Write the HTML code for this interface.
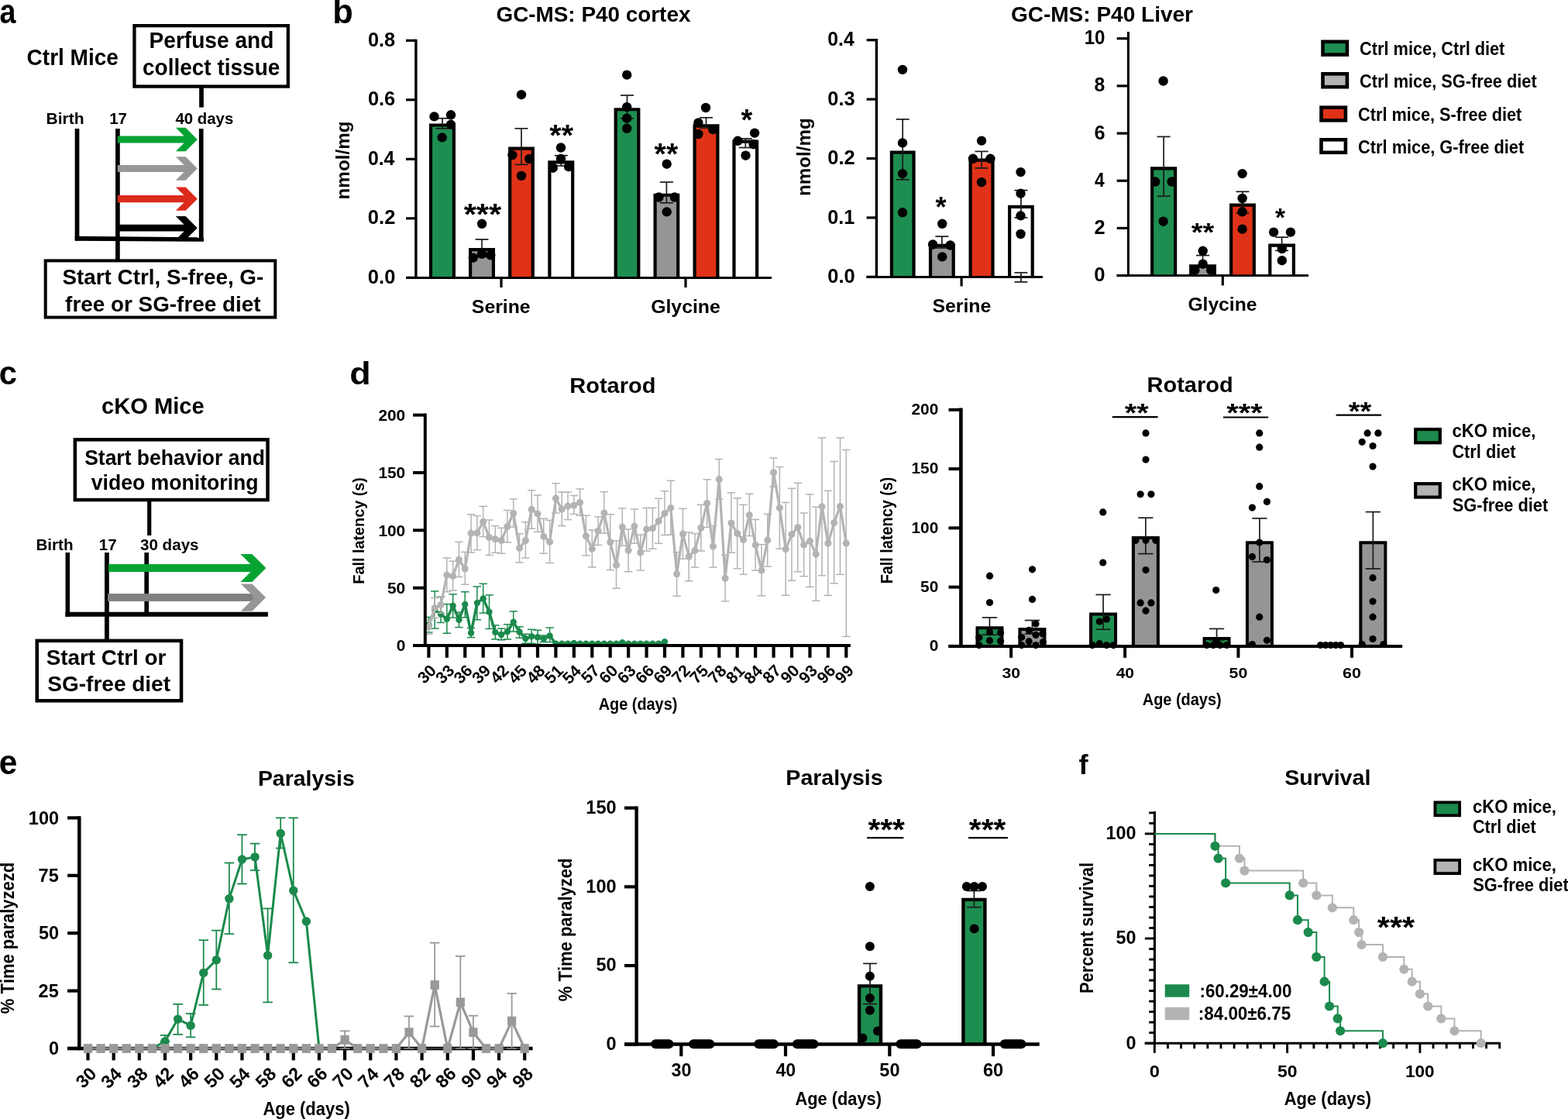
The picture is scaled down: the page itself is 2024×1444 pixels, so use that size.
<!DOCTYPE html>
<html><head><meta charset="utf-8"><title>Figure</title>
<style>
html,body{margin:0;padding:0;background:#fff;}
svg{display:block;}
text{font-family:"Liberation Sans", Arial, Helvetica, sans-serif;font-weight:bold;font-kerning:none;}
</style></head><body>
<svg width="2024" height="1444" viewBox="0 0 2024 1444">
<rect width="2024" height="1444" fill="#fff"/>
<text x="-0.4" y="29.9" font-size="44" textLength="20.97" lengthAdjust="spacingAndGlyphs">a</text>
<text x="34.55" y="84.2" font-size="30.4" textLength="118.41" lengthAdjust="spacingAndGlyphs">Ctrl Mice</text>
<rect x="173.45" y="33.15" width="198.4" height="78.4" fill="none" stroke="#000" stroke-width="4.3"/>
<text x="192.52" y="62.1" font-size="29.4" textLength="160.83" lengthAdjust="spacingAndGlyphs">Perfuse and</text>
<text x="184.01" y="96.5" font-size="29.4" textLength="177.35" lengthAdjust="spacingAndGlyphs">collect tissue</text>
<line x1="260" y1="113" x2="260" y2="138.6" stroke="#000" stroke-width="5.7" stroke-linecap="butt"/>
<text x="59.59" y="159.5" font-size="21">Birth</text>
<text x="141.21" y="159.5" font-size="21" textLength="22.79" lengthAdjust="spacingAndGlyphs">17</text>
<text x="226.39" y="159.5" font-size="21" textLength="74.85" lengthAdjust="spacingAndGlyphs">40 days</text>
<line x1="99.5" y1="166" x2="99.5" y2="310.5" stroke="#000" stroke-width="5.7" stroke-linecap="butt"/>
<line x1="151.9" y1="166" x2="151.9" y2="336" stroke="#000" stroke-width="5.7" stroke-linecap="butt"/>
<line x1="259.7" y1="166" x2="259.7" y2="310.5" stroke="#000" stroke-width="5.7" stroke-linecap="butt"/>
<polygon points="96.8,304.7 263,306.3 263,311.7 96.8,310.7" fill="#000"/>
<polygon points="151.8,175.4 237.55,175.4 226.9,164.75 239.6,164.75 254.8,179.95 239.6,195.15 226.9,195.15 237.55,184.5 151.8,184.5" fill="#06a333"/>
<polygon points="151.8,213 237.6,213 226.9,202.3 239.6,202.3 254.8,217.5 239.6,232.7 226.9,232.7 237.6,222 151.8,222" fill="#979797"/>
<polygon points="151.8,252.1 237.55,252.1 226.9,241.45 239.6,241.45 254.8,256.65 239.6,271.85 226.9,271.85 237.55,261.2 151.8,261.2" fill="#dc2a1b"/>
<polygon points="151.8,289.7 237.65,289.7 226.9,278.95 239.6,278.95 254.8,294.15 239.6,309.35 226.9,309.35 237.65,298.6 151.8,298.6" fill="#000"/>
<rect x="58.7" y="336.4" width="296.6" height="73.1" fill="none" stroke="#000" stroke-width="4"/>
<text x="80.4" y="367" font-size="27.5" textLength="259.92" lengthAdjust="spacingAndGlyphs">Start Ctrl, S-free, G-</text>
<text x="84.12" y="401.5" font-size="27.5" textLength="252.42" lengthAdjust="spacingAndGlyphs">free or SG-free diet</text>
<text x="429.24" y="30.1" font-size="44" textLength="26.55" lengthAdjust="spacingAndGlyphs">b</text>
<text x="640.46" y="28.2" font-size="27.5" textLength="250.95" lengthAdjust="spacingAndGlyphs">GC-MS: P40 cortex</text>
<line x1="524" y1="358.3" x2="536.9" y2="358.3" stroke="#000" stroke-width="3.2" stroke-linecap="butt"/>
<text x="474.89" y="365.9" font-size="25.4" textLength="35.45" lengthAdjust="spacingAndGlyphs">0.0</text>
<line x1="524" y1="281.8" x2="536.9" y2="281.8" stroke="#000" stroke-width="3.2" stroke-linecap="butt"/>
<text x="474.89" y="289.4" font-size="25.4" textLength="35.43" lengthAdjust="spacingAndGlyphs">0.2</text>
<line x1="524" y1="205.3" x2="536.9" y2="205.3" stroke="#000" stroke-width="3.2" stroke-linecap="butt"/>
<text x="474.92" y="212.9" font-size="25.4" textLength="34.52" lengthAdjust="spacingAndGlyphs">0.4</text>
<line x1="524" y1="128.8" x2="536.9" y2="128.8" stroke="#000" stroke-width="3.2" stroke-linecap="butt"/>
<text x="474.9" y="136.4" font-size="25.4">0.6</text>
<line x1="524" y1="52.3" x2="536.9" y2="52.3" stroke="#000" stroke-width="3.2" stroke-linecap="butt"/>
<text x="474.9" y="59.9" font-size="25.4" textLength="35.18" lengthAdjust="spacingAndGlyphs">0.8</text>
<line x1="536.9" y1="50.7" x2="536.9" y2="360" stroke="#000" stroke-width="3.4" stroke-linecap="butt"/>
<line x1="524" y1="358.5" x2="996" y2="358.5" stroke="#000" stroke-width="2.8" stroke-linecap="butt"/>
<line x1="647" y1="358" x2="647" y2="371" stroke="#000" stroke-width="3.2" stroke-linecap="butt"/>
<line x1="885" y1="358" x2="885" y2="371" stroke="#000" stroke-width="3.2" stroke-linecap="butt"/>
<g transform="translate(450.9 0) rotate(-90)">
<text x="-257.5" y="0" font-size="24.5" textLength="101.12" lengthAdjust="spacingAndGlyphs">nmol/mg</text>
</g>
<text x="608.89" y="404.3" font-size="24.7" textLength="75.76" lengthAdjust="spacingAndGlyphs">Serine</text>
<text x="840.18" y="404.3" font-size="24.7" textLength="89.67" lengthAdjust="spacingAndGlyphs">Glycine</text>
<rect x="556" y="161.5" width="29.9" height="196.8" fill="#1e8e50"/>
<path d="M556 358.3V161.5H585.9V358.3" fill="none" stroke="#000" stroke-width="4.2" stroke-linejoin="miter"/>
<line x1="570.95" y1="165.8" x2="570.95" y2="152.7" stroke="#1a1a1a" stroke-width="1.7" stroke-linecap="butt"/>
<line x1="562.45" y1="152.7" x2="579.45" y2="152.7" stroke="#1a1a1a" stroke-width="1.7" stroke-linecap="butt"/>
<line x1="562.45" y1="165.8" x2="579.45" y2="165.8" stroke="#1a1a1a" stroke-width="1.7" stroke-linecap="butt"/>
<circle cx="560.5" cy="150.4" r="6.2" fill="#000"/>
<circle cx="582" cy="148.3" r="6.2" fill="#000"/>
<circle cx="582" cy="160.8" r="6.2" fill="#000"/>
<circle cx="570.7" cy="177.4" r="6.2" fill="#000"/>
<rect x="607.1" y="322.15" width="29.8" height="36.15" fill="#959595"/>
<path d="M607.1 358.3V322.15H636.9V358.3" fill="none" stroke="#000" stroke-width="4.2" stroke-linejoin="miter"/>
<line x1="622" y1="331" x2="622" y2="308.9" stroke="#1a1a1a" stroke-width="1.7" stroke-linecap="butt"/>
<line x1="613.5" y1="308.9" x2="630.5" y2="308.9" stroke="#1a1a1a" stroke-width="1.7" stroke-linecap="butt"/>
<line x1="613.5" y1="331" x2="630.5" y2="331" stroke="#1a1a1a" stroke-width="1.7" stroke-linecap="butt"/>
<circle cx="622.1" cy="288.8" r="6.2" fill="#000"/>
<circle cx="610.8" cy="332.6" r="6.2" fill="#000"/>
<circle cx="621.9" cy="327.8" r="6.2" fill="#000"/>
<circle cx="633.3" cy="329.4" r="6.2" fill="#000"/>
<rect x="658.2" y="191.72" width="29.6" height="166.58" fill="#e03218"/>
<path d="M658.2 358.3V191.72H687.8V358.3" fill="none" stroke="#000" stroke-width="4.2" stroke-linejoin="miter"/>
<line x1="673" y1="212.3" x2="673" y2="165.8" stroke="#1a1a1a" stroke-width="1.7" stroke-linecap="butt"/>
<line x1="664.5" y1="165.8" x2="681.5" y2="165.8" stroke="#1a1a1a" stroke-width="1.7" stroke-linecap="butt"/>
<line x1="664.5" y1="212.3" x2="681.5" y2="212.3" stroke="#1a1a1a" stroke-width="1.7" stroke-linecap="butt"/>
<circle cx="673" cy="122.2" r="6.2" fill="#000"/>
<circle cx="661.4" cy="200.1" r="6.2" fill="#000"/>
<circle cx="683.2" cy="205" r="6.2" fill="#000"/>
<circle cx="673" cy="226.9" r="6.2" fill="#000"/>
<rect x="709.4" y="209.31" width="29.8" height="148.99" fill="#fff"/>
<path d="M709.4 358.3V209.31H739.2V358.3" fill="none" stroke="#000" stroke-width="4.2" stroke-linejoin="miter"/>
<line x1="724.3" y1="214" x2="724.3" y2="200.7" stroke="#1a1a1a" stroke-width="1.7" stroke-linecap="butt"/>
<line x1="715.8" y1="200.7" x2="732.8" y2="200.7" stroke="#1a1a1a" stroke-width="1.7" stroke-linecap="butt"/>
<line x1="715.8" y1="214" x2="732.8" y2="214" stroke="#1a1a1a" stroke-width="1.7" stroke-linecap="butt"/>
<circle cx="724" cy="190.5" r="6.2" fill="#000"/>
<circle cx="713.8" cy="216.7" r="6.2" fill="#000"/>
<circle cx="724" cy="205" r="6.2" fill="#000"/>
<circle cx="734.1" cy="215.2" r="6.2" fill="#000"/>
<rect x="794.7" y="141.23" width="29.6" height="217.07" fill="#1e8e50"/>
<path d="M794.7 358.3V141.23H824.3V358.3" fill="none" stroke="#000" stroke-width="4.2" stroke-linejoin="miter"/>
<line x1="809.5" y1="152.7" x2="809.5" y2="123" stroke="#1a1a1a" stroke-width="1.7" stroke-linecap="butt"/>
<line x1="801" y1="123" x2="818" y2="123" stroke="#1a1a1a" stroke-width="1.7" stroke-linecap="butt"/>
<line x1="801" y1="152.7" x2="818" y2="152.7" stroke="#1a1a1a" stroke-width="1.7" stroke-linecap="butt"/>
<circle cx="809.2" cy="96.6" r="6.2" fill="#000"/>
<circle cx="809.2" cy="138.2" r="6.2" fill="#000"/>
<circle cx="809.2" cy="152.7" r="6.2" fill="#000"/>
<circle cx="809.2" cy="165.8" r="6.2" fill="#000"/>
<rect x="845.6" y="251.77" width="29.6" height="106.53" fill="#959595"/>
<path d="M845.6 358.3V251.77H875.2V358.3" fill="none" stroke="#000" stroke-width="4.2" stroke-linejoin="miter"/>
<line x1="860.4" y1="261.8" x2="860.4" y2="235" stroke="#1a1a1a" stroke-width="1.7" stroke-linecap="butt"/>
<line x1="851.9" y1="235" x2="868.9" y2="235" stroke="#1a1a1a" stroke-width="1.7" stroke-linecap="butt"/>
<line x1="851.9" y1="261.8" x2="868.9" y2="261.8" stroke="#1a1a1a" stroke-width="1.7" stroke-linecap="butt"/>
<circle cx="860.7" cy="211.7" r="6.2" fill="#000"/>
<circle cx="850.5" cy="254.5" r="6.2" fill="#000"/>
<circle cx="870.8" cy="254.5" r="6.2" fill="#000"/>
<circle cx="860.7" cy="273.4" r="6.2" fill="#000"/>
<rect x="896.6" y="162.26" width="29.8" height="196.04" fill="#e03218"/>
<path d="M896.6 358.3V162.26H926.4V358.3" fill="none" stroke="#000" stroke-width="4.2" stroke-linejoin="miter"/>
<line x1="911.5" y1="165.2" x2="911.5" y2="151.8" stroke="#1a1a1a" stroke-width="1.7" stroke-linecap="butt"/>
<line x1="903" y1="151.8" x2="920" y2="151.8" stroke="#1a1a1a" stroke-width="1.7" stroke-linecap="butt"/>
<line x1="903" y1="165.2" x2="920" y2="165.2" stroke="#1a1a1a" stroke-width="1.7" stroke-linecap="butt"/>
<circle cx="911" cy="139" r="6.2" fill="#000"/>
<circle cx="901.4" cy="158.5" r="6.2" fill="#000"/>
<circle cx="920.3" cy="167.2" r="6.2" fill="#000"/>
<circle cx="901.4" cy="173" r="6.2" fill="#000"/>
<rect x="947.5" y="182.54" width="29.6" height="175.76" fill="#fff"/>
<path d="M947.5 358.3V182.54H977.1V358.3" fill="none" stroke="#000" stroke-width="4.2" stroke-linejoin="miter"/>
<line x1="962.3" y1="190.5" x2="962.3" y2="178.9" stroke="#1a1a1a" stroke-width="1.7" stroke-linecap="butt"/>
<line x1="953.8" y1="178.9" x2="970.8" y2="178.9" stroke="#1a1a1a" stroke-width="1.7" stroke-linecap="butt"/>
<line x1="953.8" y1="190.5" x2="970.8" y2="190.5" stroke="#1a1a1a" stroke-width="1.7" stroke-linecap="butt"/>
<circle cx="974.1" cy="171.6" r="6.2" fill="#000"/>
<circle cx="952.3" cy="181.8" r="6.2" fill="#000"/>
<circle cx="972.6" cy="186.2" r="6.2" fill="#000"/>
<circle cx="962.5" cy="200.7" r="6.2" fill="#000"/>
<line x1="524" y1="358.5" x2="996" y2="358.5" stroke="#000" stroke-width="2.8" stroke-linecap="butt"/>
<text x="598.68" y="290" font-size="39.24" textLength="48.56" lengthAdjust="spacingAndGlyphs">***</text>
<text x="709.28" y="188.4" font-size="39.24" textLength="30.75" lengthAdjust="spacingAndGlyphs">**</text>
<text x="844.58" y="211.51" font-size="38.97" textLength="30.65" lengthAdjust="spacingAndGlyphs">**</text>
<text x="956.49" y="168" font-size="39.24" textLength="14.75" lengthAdjust="spacingAndGlyphs">*</text>
<text x="1304.95" y="27.7" font-size="27.5" textLength="235.07" lengthAdjust="spacingAndGlyphs">GC-MS: P40 Liver</text>
<line x1="1118.6" y1="357.3" x2="1131.4" y2="357.3" stroke="#000" stroke-width="3.2" stroke-linecap="butt"/>
<text x="1068.29" y="364.9" font-size="25.4" textLength="35.45" lengthAdjust="spacingAndGlyphs">0.0</text>
<line x1="1118.6" y1="280.9" x2="1131.4" y2="280.9" stroke="#000" stroke-width="3.2" stroke-linecap="butt"/>
<text x="1068.3" y="288.5" font-size="25.4" textLength="35.1" lengthAdjust="spacingAndGlyphs">0.1</text>
<line x1="1118.6" y1="204.5" x2="1131.4" y2="204.5" stroke="#000" stroke-width="3.2" stroke-linecap="butt"/>
<text x="1068.29" y="212.1" font-size="25.4" textLength="35.43" lengthAdjust="spacingAndGlyphs">0.2</text>
<line x1="1118.6" y1="128.1" x2="1131.4" y2="128.1" stroke="#000" stroke-width="3.2" stroke-linecap="butt"/>
<text x="1068.3" y="135.7" font-size="25.4">0.3</text>
<line x1="1118.6" y1="51.7" x2="1131.4" y2="51.7" stroke="#000" stroke-width="3.2" stroke-linecap="butt"/>
<text x="1068.32" y="59.3" font-size="25.4" textLength="34.52" lengthAdjust="spacingAndGlyphs">0.4</text>
<line x1="1131.4" y1="50.1" x2="1131.4" y2="359" stroke="#000" stroke-width="3.4" stroke-linecap="butt"/>
<line x1="1118.6" y1="357.3" x2="1345.9" y2="357.3" stroke="#000" stroke-width="2.8" stroke-linecap="butt"/>
<line x1="1241.1" y1="357" x2="1241.1" y2="369.4" stroke="#000" stroke-width="3.2" stroke-linecap="butt"/>
<g transform="translate(1045.8 0) rotate(-90)">
<text x="-252.89" y="0" font-size="24.6" textLength="100.61" lengthAdjust="spacingAndGlyphs">nmol/mg</text>
</g>
<text x="1203.38" y="403" font-size="24.7" textLength="75.97" lengthAdjust="spacingAndGlyphs">Serine</text>
<rect x="1150.9" y="196.67" width="28.6" height="160.63" fill="#1e8e50"/>
<path d="M1150.9 357.3V196.67H1179.5V357.3" fill="none" stroke="#000" stroke-width="4.2" stroke-linejoin="miter"/>
<line x1="1165.2" y1="231.8" x2="1165.2" y2="153.9" stroke="#1a1a1a" stroke-width="1.7" stroke-linecap="butt"/>
<line x1="1156.7" y1="153.9" x2="1173.7" y2="153.9" stroke="#1a1a1a" stroke-width="1.7" stroke-linecap="butt"/>
<line x1="1156.7" y1="231.8" x2="1173.7" y2="231.8" stroke="#1a1a1a" stroke-width="1.7" stroke-linecap="butt"/>
<circle cx="1165" cy="89.9" r="6.2" fill="#000"/>
<circle cx="1165" cy="184.4" r="6.2" fill="#000"/>
<circle cx="1165" cy="224.1" r="6.2" fill="#000"/>
<circle cx="1165" cy="274.3" r="6.2" fill="#000"/>
<rect x="1201" y="316.92" width="29.7" height="40.38" fill="#959595"/>
<path d="M1201 357.3V316.92H1230.7V357.3" fill="none" stroke="#000" stroke-width="4.2" stroke-linejoin="miter"/>
<line x1="1215.85" y1="320" x2="1215.85" y2="305.1" stroke="#1a1a1a" stroke-width="1.7" stroke-linecap="butt"/>
<line x1="1207.35" y1="305.1" x2="1224.35" y2="305.1" stroke="#1a1a1a" stroke-width="1.7" stroke-linecap="butt"/>
<line x1="1207.35" y1="320" x2="1224.35" y2="320" stroke="#1a1a1a" stroke-width="1.7" stroke-linecap="butt"/>
<circle cx="1216.2" cy="288.8" r="6.2" fill="#000"/>
<circle cx="1204.1" cy="315.5" r="6.2" fill="#000"/>
<circle cx="1226.6" cy="316.5" r="6.2" fill="#000"/>
<circle cx="1216.2" cy="331.4" r="6.2" fill="#000"/>
<rect x="1252.6" y="206.6" width="28.9" height="150.7" fill="#e03218"/>
<path d="M1252.6 357.3V206.6H1281.5V357.3" fill="none" stroke="#000" stroke-width="4.2" stroke-linejoin="miter"/>
<line x1="1267.05" y1="216.9" x2="1267.05" y2="195.4" stroke="#1a1a1a" stroke-width="1.7" stroke-linecap="butt"/>
<line x1="1258.55" y1="195.4" x2="1275.55" y2="195.4" stroke="#1a1a1a" stroke-width="1.7" stroke-linecap="butt"/>
<line x1="1258.55" y1="216.9" x2="1275.55" y2="216.9" stroke="#1a1a1a" stroke-width="1.7" stroke-linecap="butt"/>
<circle cx="1267" cy="181.6" r="6.2" fill="#000"/>
<circle cx="1256" cy="204.8" r="6.2" fill="#000"/>
<circle cx="1278.4" cy="204.8" r="6.2" fill="#000"/>
<circle cx="1267" cy="235.2" r="6.2" fill="#000"/>
<rect x="1303.1" y="266.96" width="29.6" height="90.34" fill="#fff"/>
<path d="M1303.1 357.3V266.96H1332.7V357.3" fill="none" stroke="#000" stroke-width="4.2" stroke-linejoin="miter"/>
<line x1="1317.9" y1="280.9" x2="1317.9" y2="245.6" stroke="#1a1a1a" stroke-width="1.7" stroke-linecap="butt"/>
<line x1="1309.4" y1="245.6" x2="1326.4" y2="245.6" stroke="#1a1a1a" stroke-width="1.7" stroke-linecap="butt"/>
<line x1="1309.4" y1="280.9" x2="1326.4" y2="280.9" stroke="#1a1a1a" stroke-width="1.7" stroke-linecap="butt"/>
<circle cx="1317.5" cy="222.1" r="6.2" fill="#000"/>
<circle cx="1317.5" cy="249.7" r="6.2" fill="#000"/>
<circle cx="1317.5" cy="278.4" r="6.2" fill="#000"/>
<circle cx="1317.5" cy="302" r="6.2" fill="#000"/>
<line x1="1118.6" y1="357.3" x2="1345.9" y2="357.3" stroke="#000" stroke-width="2.8" stroke-linecap="butt"/>
<line x1="1317.9" y1="363.9" x2="1317.9" y2="351.8" stroke="#1a1a1a" stroke-width="1.7" stroke-linecap="butt"/>
<line x1="1309.4" y1="351.8" x2="1326.4" y2="351.8" stroke="#1a1a1a" stroke-width="1.7" stroke-linecap="butt"/>
<line x1="1309.4" y1="363.9" x2="1326.4" y2="363.9" stroke="#1a1a1a" stroke-width="1.7" stroke-linecap="butt"/>
<text x="1207.39" y="279.72" font-size="37.09" textLength="14.04" lengthAdjust="spacingAndGlyphs">*</text>
<line x1="1441.7" y1="355.6" x2="1456.4" y2="355.6" stroke="#000" stroke-width="3.2" stroke-linecap="butt"/>
<text x="1412.29" y="363.2" font-size="25.4" textLength="14.27" lengthAdjust="spacingAndGlyphs">0</text>
<line x1="1441.7" y1="294.42" x2="1456.4" y2="294.42" stroke="#000" stroke-width="3.2" stroke-linecap="butt"/>
<text x="1412.42" y="302.02" font-size="25.4" textLength="14.09" lengthAdjust="spacingAndGlyphs">2</text>
<line x1="1441.7" y1="233.24" x2="1456.4" y2="233.24" stroke="#000" stroke-width="3.2" stroke-linecap="butt"/>
<text x="1412.96" y="240.84" font-size="25.4" textLength="12.67" lengthAdjust="spacingAndGlyphs">4</text>
<line x1="1441.7" y1="172.06" x2="1456.4" y2="172.06" stroke="#000" stroke-width="3.2" stroke-linecap="butt"/>
<text x="1412.38" y="179.66" font-size="25.4" textLength="14.04" lengthAdjust="spacingAndGlyphs">6</text>
<line x1="1441.7" y1="110.88" x2="1456.4" y2="110.88" stroke="#000" stroke-width="3.2" stroke-linecap="butt"/>
<text x="1412.52" y="118.48" font-size="25.4" textLength="13.74" lengthAdjust="spacingAndGlyphs">8</text>
<line x1="1441.7" y1="49.7" x2="1456.4" y2="49.7" stroke="#000" stroke-width="3.2" stroke-linecap="butt"/>
<text x="1399.68" y="57.3" font-size="25.4" textLength="26.81" lengthAdjust="spacingAndGlyphs">10</text>
<line x1="1456.4" y1="40.9" x2="1456.4" y2="357" stroke="#000" stroke-width="3.1" stroke-linecap="butt"/>
<line x1="1441.7" y1="355.6" x2="1689" y2="355.6" stroke="#000" stroke-width="2.8" stroke-linecap="butt"/>
<line x1="1578.3" y1="355.3" x2="1578.3" y2="368.4" stroke="#000" stroke-width="3.2" stroke-linecap="butt"/>
<text x="1533.39" y="401" font-size="24.7" textLength="89.05" lengthAdjust="spacingAndGlyphs">Glycine</text>
<rect x="1487.1" y="217.29" width="30" height="138.31" fill="#1e8e50"/>
<path d="M1487.1 355.6V217.29H1517.1V355.6" fill="none" stroke="#000" stroke-width="4.2" stroke-linejoin="miter"/>
<line x1="1502.1" y1="253.2" x2="1502.1" y2="176.4" stroke="#1a1a1a" stroke-width="1.7" stroke-linecap="butt"/>
<line x1="1493.6" y1="176.4" x2="1510.6" y2="176.4" stroke="#1a1a1a" stroke-width="1.7" stroke-linecap="butt"/>
<line x1="1493.6" y1="253.2" x2="1510.6" y2="253.2" stroke="#1a1a1a" stroke-width="1.7" stroke-linecap="butt"/>
<circle cx="1501.6" cy="104.5" r="6.2" fill="#000"/>
<circle cx="1491.2" cy="234.5" r="6.2" fill="#000"/>
<circle cx="1512.6" cy="234.5" r="6.2" fill="#000"/>
<circle cx="1501.6" cy="285.7" r="6.2" fill="#000"/>
<rect x="1537.2" y="343.32" width="30.7" height="12.28" fill="#959595"/>
<path d="M1537.2 355.6V343.32H1567.9V355.6" fill="none" stroke="#000" stroke-width="4.2" stroke-linejoin="miter"/>
<line x1="1552.55" y1="345" x2="1552.55" y2="329.6" stroke="#1a1a1a" stroke-width="1.7" stroke-linecap="butt"/>
<line x1="1544.05" y1="329.6" x2="1561.05" y2="329.6" stroke="#1a1a1a" stroke-width="1.7" stroke-linecap="butt"/>
<line x1="1544.05" y1="345" x2="1561.05" y2="345" stroke="#1a1a1a" stroke-width="1.7" stroke-linecap="butt"/>
<circle cx="1552.7" cy="323.8" r="6.2" fill="#000"/>
<circle cx="1552.7" cy="340.7" r="6.2" fill="#000"/>
<circle cx="1542.4" cy="348.7" r="6.2" fill="#000"/>
<circle cx="1563.1" cy="348.7" r="6.2" fill="#000"/>
<rect x="1589.1" y="264.71" width="29.7" height="90.89" fill="#e03218"/>
<path d="M1589.1 355.6V264.71H1618.8V355.6" fill="none" stroke="#000" stroke-width="4.2" stroke-linejoin="miter"/>
<line x1="1603.95" y1="275" x2="1603.95" y2="247.3" stroke="#1a1a1a" stroke-width="1.7" stroke-linecap="butt"/>
<line x1="1595.45" y1="247.3" x2="1612.45" y2="247.3" stroke="#1a1a1a" stroke-width="1.7" stroke-linecap="butt"/>
<line x1="1595.45" y1="275" x2="1612.45" y2="275" stroke="#1a1a1a" stroke-width="1.7" stroke-linecap="butt"/>
<circle cx="1603.6" cy="224.1" r="6.2" fill="#000"/>
<circle cx="1603.6" cy="256" r="6.2" fill="#000"/>
<circle cx="1603.6" cy="273.3" r="6.2" fill="#000"/>
<circle cx="1603.6" cy="295.7" r="6.2" fill="#000"/>
<rect x="1639.3" y="316.71" width="30.6" height="38.89" fill="#fff"/>
<path d="M1639.3 355.6V316.71H1669.9V355.6" fill="none" stroke="#000" stroke-width="4.2" stroke-linejoin="miter"/>
<line x1="1654.6" y1="323.4" x2="1654.6" y2="306.1" stroke="#1a1a1a" stroke-width="1.7" stroke-linecap="butt"/>
<line x1="1646.1" y1="306.1" x2="1663.1" y2="306.1" stroke="#1a1a1a" stroke-width="1.7" stroke-linecap="butt"/>
<line x1="1646.1" y1="323.4" x2="1663.1" y2="323.4" stroke="#1a1a1a" stroke-width="1.7" stroke-linecap="butt"/>
<circle cx="1644.1" cy="299.6" r="6.2" fill="#000"/>
<circle cx="1665.9" cy="299.6" r="6.2" fill="#000"/>
<circle cx="1654.8" cy="321" r="6.2" fill="#000"/>
<circle cx="1654.8" cy="336.2" r="6.2" fill="#000"/>
<line x1="1441.7" y1="355.6" x2="1689" y2="355.6" stroke="#000" stroke-width="2.8" stroke-linecap="butt"/>
<text x="1537.79" y="311.36" font-size="32.79" textLength="29.55" lengthAdjust="spacingAndGlyphs">**</text>
<text x="1646" y="292.36" font-size="32.79" textLength="13.03" lengthAdjust="spacingAndGlyphs">*</text>
<rect x="1707.5" y="53.8" width="31.4" height="16.8" fill="#1e8e50" stroke="#000" stroke-width="4.6"/>
<rect x="1707.5" y="95.3" width="31.4" height="16.9" fill="#b4b3b4" stroke="#000" stroke-width="4.6"/>
<rect x="1705.5" y="138.7" width="31.4" height="16.6" fill="#e03218" stroke="#000" stroke-width="4.6"/>
<rect x="1705.5" y="180.3" width="31.4" height="16.5" fill="#fff" stroke="#000" stroke-width="4.6"/>
<text x="1755.11" y="71.3" font-size="23.3" textLength="187.26" lengthAdjust="spacingAndGlyphs">Ctrl mice, Ctrl diet</text>
<text x="1755.11" y="112.5" font-size="23.3" textLength="228.56" lengthAdjust="spacingAndGlyphs">Ctrl mice, SG-free diet</text>
<text x="1753.11" y="156.2" font-size="23.3" textLength="211.16" lengthAdjust="spacingAndGlyphs">Ctrl mice, S-free diet</text>
<text x="1753.11" y="198" font-size="23.3" textLength="214.06" lengthAdjust="spacingAndGlyphs">Ctrl mice, G-free diet</text>
<text x="-1.33" y="496.2" font-size="42" textLength="23.26" lengthAdjust="spacingAndGlyphs">c</text>
<text x="131.06" y="533.9" font-size="30.4" textLength="132.63" lengthAdjust="spacingAndGlyphs">cKO Mice</text>
<rect x="96.85" y="567.35" width="248.7" height="77.7" fill="none" stroke="#000" stroke-width="4.5"/>
<text x="109.14" y="600.1" font-size="27.5" textLength="232.71" lengthAdjust="spacingAndGlyphs">Start behavior and</text>
<text x="117.7" y="632" font-size="27.5" textLength="215.88" lengthAdjust="spacingAndGlyphs">video monitoring</text>
<line x1="192.7" y1="646" x2="192.7" y2="691" stroke="#000" stroke-width="5.2" stroke-linecap="butt"/>
<text x="46.42" y="710" font-size="20.5" textLength="48.16" lengthAdjust="spacingAndGlyphs">Birth</text>
<text x="127.7" y="710" font-size="20.5" textLength="22.9" lengthAdjust="spacingAndGlyphs">17</text>
<text x="181.03" y="710" font-size="20.5" textLength="75.52" lengthAdjust="spacingAndGlyphs">30 days</text>
<line x1="87.3" y1="713" x2="87.3" y2="795.8" stroke="#000" stroke-width="5.5" stroke-linecap="butt"/>
<line x1="137.9" y1="713" x2="137.9" y2="826" stroke="#000" stroke-width="5.8" stroke-linecap="butt"/>
<line x1="189.2" y1="713" x2="189.2" y2="792" stroke="#000" stroke-width="5.7" stroke-linecap="butt"/>
<line x1="84.4" y1="792.8" x2="345.9" y2="792.8" stroke="#000" stroke-width="5.9" stroke-linecap="butt"/>
<polygon points="140.1,727.9 323.4,727.9 310.5,715 325.4,715 343.4,733 325.4,751 310.5,751 323.4,738.1 140.1,738.1" fill="#06a333"/>
<polygon points="139.2,766.35 323.75,766.35 310.9,753.5 325.5,753.5 343.1,771.1 325.5,788.7 310.9,788.7 323.75,775.85 139.2,775.85" fill="#979797"/>
<polygon points="139.2,766.3 324.5,766.3 327.4,771 324.5,775.8 139.2,775.8" fill="#808080"/>
<rect x="47.75" y="826.85" width="186.3" height="77.4" fill="none" stroke="#000" stroke-width="4.5"/>
<text x="59.7" y="857.5" font-size="27.5" textLength="154.72" lengthAdjust="spacingAndGlyphs">Start Ctrl or</text>
<text x="61.29" y="891.5" font-size="27.5" textLength="158.75" lengthAdjust="spacingAndGlyphs">SG-free diet</text>
<text x="451.36" y="496.1" font-size="40" textLength="27.4" lengthAdjust="spacingAndGlyphs">d</text>
<text x="735.36" y="507.3" font-size="27.5" textLength="111.05" lengthAdjust="spacingAndGlyphs">Rotarod</text>
<line x1="553.4" y1="816" x2="553.4" y2="796.4" stroke="#1b8a4c" stroke-width="1.5" stroke-linecap="butt"/>
<line x1="548.2" y1="796.4" x2="558.6" y2="796.4" stroke="#1b8a4c" stroke-width="1.5" stroke-linecap="butt"/>
<line x1="548.2" y1="816" x2="558.6" y2="816" stroke="#1b8a4c" stroke-width="1.5" stroke-linecap="butt"/>
<line x1="561.21" y1="811" x2="561.21" y2="762.9" stroke="#1b8a4c" stroke-width="1.5" stroke-linecap="butt"/>
<line x1="556.01" y1="762.9" x2="566.41" y2="762.9" stroke="#1b8a4c" stroke-width="1.5" stroke-linecap="butt"/>
<line x1="556.01" y1="811" x2="566.41" y2="811" stroke="#1b8a4c" stroke-width="1.5" stroke-linecap="butt"/>
<line x1="569.02" y1="803.4" x2="569.02" y2="770" stroke="#1b8a4c" stroke-width="1.5" stroke-linecap="butt"/>
<line x1="563.82" y1="770" x2="574.22" y2="770" stroke="#1b8a4c" stroke-width="1.5" stroke-linecap="butt"/>
<line x1="563.82" y1="803.4" x2="574.22" y2="803.4" stroke="#1b8a4c" stroke-width="1.5" stroke-linecap="butt"/>
<line x1="576.83" y1="817.2" x2="576.83" y2="779.6" stroke="#1b8a4c" stroke-width="1.5" stroke-linecap="butt"/>
<line x1="571.63" y1="779.6" x2="582.03" y2="779.6" stroke="#1b8a4c" stroke-width="1.5" stroke-linecap="butt"/>
<line x1="571.63" y1="817.2" x2="582.03" y2="817.2" stroke="#1b8a4c" stroke-width="1.5" stroke-linecap="butt"/>
<line x1="584.64" y1="797" x2="584.64" y2="766.8" stroke="#1b8a4c" stroke-width="1.5" stroke-linecap="butt"/>
<line x1="579.44" y1="766.8" x2="589.84" y2="766.8" stroke="#1b8a4c" stroke-width="1.5" stroke-linecap="butt"/>
<line x1="579.44" y1="797" x2="589.84" y2="797" stroke="#1b8a4c" stroke-width="1.5" stroke-linecap="butt"/>
<line x1="592.45" y1="809.6" x2="592.45" y2="790.2" stroke="#1b8a4c" stroke-width="1.5" stroke-linecap="butt"/>
<line x1="587.25" y1="790.2" x2="597.65" y2="790.2" stroke="#1b8a4c" stroke-width="1.5" stroke-linecap="butt"/>
<line x1="587.25" y1="809.6" x2="597.65" y2="809.6" stroke="#1b8a4c" stroke-width="1.5" stroke-linecap="butt"/>
<line x1="600.26" y1="796.7" x2="600.26" y2="763.7" stroke="#1b8a4c" stroke-width="1.5" stroke-linecap="butt"/>
<line x1="595.06" y1="763.7" x2="605.46" y2="763.7" stroke="#1b8a4c" stroke-width="1.5" stroke-linecap="butt"/>
<line x1="595.06" y1="796.7" x2="605.46" y2="796.7" stroke="#1b8a4c" stroke-width="1.5" stroke-linecap="butt"/>
<line x1="608.07" y1="822.6" x2="608.07" y2="810.5" stroke="#1b8a4c" stroke-width="1.5" stroke-linecap="butt"/>
<line x1="602.87" y1="810.5" x2="613.27" y2="810.5" stroke="#1b8a4c" stroke-width="1.5" stroke-linecap="butt"/>
<line x1="602.87" y1="822.6" x2="613.27" y2="822.6" stroke="#1b8a4c" stroke-width="1.5" stroke-linecap="butt"/>
<line x1="615.88" y1="799.7" x2="615.88" y2="756.9" stroke="#1b8a4c" stroke-width="1.5" stroke-linecap="butt"/>
<line x1="610.68" y1="756.9" x2="621.08" y2="756.9" stroke="#1b8a4c" stroke-width="1.5" stroke-linecap="butt"/>
<line x1="610.68" y1="799.7" x2="621.08" y2="799.7" stroke="#1b8a4c" stroke-width="1.5" stroke-linecap="butt"/>
<line x1="623.69" y1="791.1" x2="623.69" y2="753.3" stroke="#1b8a4c" stroke-width="1.5" stroke-linecap="butt"/>
<line x1="618.49" y1="753.3" x2="628.89" y2="753.3" stroke="#1b8a4c" stroke-width="1.5" stroke-linecap="butt"/>
<line x1="618.49" y1="791.1" x2="628.89" y2="791.1" stroke="#1b8a4c" stroke-width="1.5" stroke-linecap="butt"/>
<line x1="631.5" y1="811.4" x2="631.5" y2="767.9" stroke="#1b8a4c" stroke-width="1.5" stroke-linecap="butt"/>
<line x1="626.3" y1="767.9" x2="636.7" y2="767.9" stroke="#1b8a4c" stroke-width="1.5" stroke-linecap="butt"/>
<line x1="626.3" y1="811.4" x2="636.7" y2="811.4" stroke="#1b8a4c" stroke-width="1.5" stroke-linecap="butt"/>
<line x1="639.31" y1="824.9" x2="639.31" y2="806.9" stroke="#1b8a4c" stroke-width="1.5" stroke-linecap="butt"/>
<line x1="634.11" y1="806.9" x2="644.51" y2="806.9" stroke="#1b8a4c" stroke-width="1.5" stroke-linecap="butt"/>
<line x1="634.11" y1="824.9" x2="644.51" y2="824.9" stroke="#1b8a4c" stroke-width="1.5" stroke-linecap="butt"/>
<line x1="647.12" y1="825.8" x2="647.12" y2="811" stroke="#1b8a4c" stroke-width="1.5" stroke-linecap="butt"/>
<line x1="641.92" y1="811" x2="652.32" y2="811" stroke="#1b8a4c" stroke-width="1.5" stroke-linecap="butt"/>
<line x1="641.92" y1="825.8" x2="652.32" y2="825.8" stroke="#1b8a4c" stroke-width="1.5" stroke-linecap="butt"/>
<line x1="654.93" y1="824.9" x2="654.93" y2="805.7" stroke="#1b8a4c" stroke-width="1.5" stroke-linecap="butt"/>
<line x1="649.73" y1="805.7" x2="660.13" y2="805.7" stroke="#1b8a4c" stroke-width="1.5" stroke-linecap="butt"/>
<line x1="649.73" y1="824.9" x2="660.13" y2="824.9" stroke="#1b8a4c" stroke-width="1.5" stroke-linecap="butt"/>
<line x1="662.74" y1="815" x2="662.74" y2="788.9" stroke="#1b8a4c" stroke-width="1.5" stroke-linecap="butt"/>
<line x1="657.54" y1="788.9" x2="667.94" y2="788.9" stroke="#1b8a4c" stroke-width="1.5" stroke-linecap="butt"/>
<line x1="657.54" y1="815" x2="667.94" y2="815" stroke="#1b8a4c" stroke-width="1.5" stroke-linecap="butt"/>
<line x1="670.55" y1="823.1" x2="670.55" y2="808.7" stroke="#1b8a4c" stroke-width="1.5" stroke-linecap="butt"/>
<line x1="665.35" y1="808.7" x2="675.75" y2="808.7" stroke="#1b8a4c" stroke-width="1.5" stroke-linecap="butt"/>
<line x1="665.35" y1="823.1" x2="675.75" y2="823.1" stroke="#1b8a4c" stroke-width="1.5" stroke-linecap="butt"/>
<line x1="678.36" y1="830.3" x2="678.36" y2="818.3" stroke="#1b8a4c" stroke-width="1.5" stroke-linecap="butt"/>
<line x1="673.16" y1="818.3" x2="683.56" y2="818.3" stroke="#1b8a4c" stroke-width="1.5" stroke-linecap="butt"/>
<line x1="673.16" y1="830.3" x2="683.56" y2="830.3" stroke="#1b8a4c" stroke-width="1.5" stroke-linecap="butt"/>
<line x1="686.17" y1="830.3" x2="686.17" y2="812.3" stroke="#1b8a4c" stroke-width="1.5" stroke-linecap="butt"/>
<line x1="680.97" y1="812.3" x2="691.37" y2="812.3" stroke="#1b8a4c" stroke-width="1.5" stroke-linecap="butt"/>
<line x1="680.97" y1="830.3" x2="691.37" y2="830.3" stroke="#1b8a4c" stroke-width="1.5" stroke-linecap="butt"/>
<line x1="693.98" y1="831.2" x2="693.98" y2="813.2" stroke="#1b8a4c" stroke-width="1.5" stroke-linecap="butt"/>
<line x1="688.78" y1="813.2" x2="699.18" y2="813.2" stroke="#1b8a4c" stroke-width="1.5" stroke-linecap="butt"/>
<line x1="688.78" y1="831.2" x2="699.18" y2="831.2" stroke="#1b8a4c" stroke-width="1.5" stroke-linecap="butt"/>
<line x1="701.79" y1="828.5" x2="701.79" y2="820" stroke="#1b8a4c" stroke-width="1.5" stroke-linecap="butt"/>
<line x1="696.59" y1="820" x2="706.99" y2="820" stroke="#1b8a4c" stroke-width="1.5" stroke-linecap="butt"/>
<line x1="696.59" y1="828.5" x2="706.99" y2="828.5" stroke="#1b8a4c" stroke-width="1.5" stroke-linecap="butt"/>
<line x1="709.6" y1="828.5" x2="709.6" y2="810" stroke="#1b8a4c" stroke-width="1.5" stroke-linecap="butt"/>
<line x1="704.4" y1="810" x2="714.8" y2="810" stroke="#1b8a4c" stroke-width="1.5" stroke-linecap="butt"/>
<line x1="704.4" y1="828.5" x2="714.8" y2="828.5" stroke="#1b8a4c" stroke-width="1.5" stroke-linecap="butt"/>
<polyline points="553.4,806.5 561.21,787.1 569.02,792.6 576.83,798.8 584.64,781.7 592.45,799.7 600.26,779.9 608.07,816.8 615.88,778.1 623.69,772.4 631.5,789.8 639.31,815.9 647.12,819 654.93,815 662.74,802.8 670.55,815.4 678.36,824 686.17,821.3 693.98,822.2 701.79,824.4 709.6,820.4 717.41,830.6 725.22,830.6 733.03,830.6 740.84,830 748.65,830.6 756.46,830.6 764.27,830.6 772.08,830.6 779.89,830.6 787.7,830.6 795.51,830.6 803.32,829.2 811.13,830.6 818.94,830.6 826.75,830.6 834.56,830.6 842.37,830.6 850.18,830.6 857.99,828.1" fill="none" stroke="#1b8a4c" stroke-width="3.5" stroke-linejoin="round"/>
<circle cx="553.4" cy="806.5" r="4.2" fill="#1b8a4c"/>
<circle cx="561.21" cy="787.1" r="4.2" fill="#1b8a4c"/>
<circle cx="569.02" cy="792.6" r="4.2" fill="#1b8a4c"/>
<circle cx="576.83" cy="798.8" r="4.2" fill="#1b8a4c"/>
<circle cx="584.64" cy="781.7" r="4.2" fill="#1b8a4c"/>
<circle cx="592.45" cy="799.7" r="4.2" fill="#1b8a4c"/>
<circle cx="600.26" cy="779.9" r="4.2" fill="#1b8a4c"/>
<circle cx="608.07" cy="816.8" r="4.2" fill="#1b8a4c"/>
<circle cx="615.88" cy="778.1" r="4.2" fill="#1b8a4c"/>
<circle cx="623.69" cy="772.4" r="4.2" fill="#1b8a4c"/>
<circle cx="631.5" cy="789.8" r="4.2" fill="#1b8a4c"/>
<circle cx="639.31" cy="815.9" r="4.2" fill="#1b8a4c"/>
<circle cx="647.12" cy="819" r="4.2" fill="#1b8a4c"/>
<circle cx="654.93" cy="815" r="4.2" fill="#1b8a4c"/>
<circle cx="662.74" cy="802.8" r="4.2" fill="#1b8a4c"/>
<circle cx="670.55" cy="815.4" r="4.2" fill="#1b8a4c"/>
<circle cx="678.36" cy="824" r="4.2" fill="#1b8a4c"/>
<circle cx="686.17" cy="821.3" r="4.2" fill="#1b8a4c"/>
<circle cx="693.98" cy="822.2" r="4.2" fill="#1b8a4c"/>
<circle cx="701.79" cy="824.4" r="4.2" fill="#1b8a4c"/>
<circle cx="709.6" cy="820.4" r="4.2" fill="#1b8a4c"/>
<circle cx="717.41" cy="830.6" r="4.2" fill="#1b8a4c"/>
<circle cx="725.22" cy="830.6" r="4.2" fill="#1b8a4c"/>
<circle cx="733.03" cy="830.6" r="4.2" fill="#1b8a4c"/>
<circle cx="740.84" cy="830" r="4.2" fill="#1b8a4c"/>
<circle cx="748.65" cy="830.6" r="4.2" fill="#1b8a4c"/>
<circle cx="756.46" cy="830.6" r="4.2" fill="#1b8a4c"/>
<circle cx="764.27" cy="830.6" r="4.2" fill="#1b8a4c"/>
<circle cx="772.08" cy="830.6" r="4.2" fill="#1b8a4c"/>
<circle cx="779.89" cy="830.6" r="4.2" fill="#1b8a4c"/>
<circle cx="787.7" cy="830.6" r="4.2" fill="#1b8a4c"/>
<circle cx="795.51" cy="830.6" r="4.2" fill="#1b8a4c"/>
<circle cx="803.32" cy="829.2" r="4.2" fill="#1b8a4c"/>
<circle cx="811.13" cy="830.6" r="4.2" fill="#1b8a4c"/>
<circle cx="818.94" cy="830.6" r="4.2" fill="#1b8a4c"/>
<circle cx="826.75" cy="830.6" r="4.2" fill="#1b8a4c"/>
<circle cx="834.56" cy="830.6" r="4.2" fill="#1b8a4c"/>
<circle cx="842.37" cy="830.6" r="4.2" fill="#1b8a4c"/>
<circle cx="850.18" cy="830.6" r="4.2" fill="#1b8a4c"/>
<circle cx="857.99" cy="828.1" r="4.2" fill="#1b8a4c"/>
<line x1="553.4" y1="818.3" x2="553.4" y2="800.6" stroke="#b4b3b1" stroke-width="1.5" stroke-linecap="butt"/>
<line x1="548.2" y1="800.6" x2="558.6" y2="800.6" stroke="#b4b3b1" stroke-width="1.5" stroke-linecap="butt"/>
<line x1="548.2" y1="818.3" x2="558.6" y2="818.3" stroke="#b4b3b1" stroke-width="1.5" stroke-linecap="butt"/>
<line x1="561.21" y1="797.3" x2="561.21" y2="771.5" stroke="#b4b3b1" stroke-width="1.5" stroke-linecap="butt"/>
<line x1="556.01" y1="771.5" x2="566.41" y2="771.5" stroke="#b4b3b1" stroke-width="1.5" stroke-linecap="butt"/>
<line x1="556.01" y1="797.3" x2="566.41" y2="797.3" stroke="#b4b3b1" stroke-width="1.5" stroke-linecap="butt"/>
<line x1="569.02" y1="791.3" x2="569.02" y2="769.7" stroke="#b4b3b1" stroke-width="1.5" stroke-linecap="butt"/>
<line x1="563.82" y1="769.7" x2="574.22" y2="769.7" stroke="#b4b3b1" stroke-width="1.5" stroke-linecap="butt"/>
<line x1="563.82" y1="791.3" x2="574.22" y2="791.3" stroke="#b4b3b1" stroke-width="1.5" stroke-linecap="butt"/>
<line x1="576.83" y1="763.7" x2="576.83" y2="720" stroke="#b4b3b1" stroke-width="1.5" stroke-linecap="butt"/>
<line x1="571.63" y1="720" x2="582.03" y2="720" stroke="#b4b3b1" stroke-width="1.5" stroke-linecap="butt"/>
<line x1="571.63" y1="763.7" x2="582.03" y2="763.7" stroke="#b4b3b1" stroke-width="1.5" stroke-linecap="butt"/>
<line x1="584.64" y1="761.9" x2="584.64" y2="724.1" stroke="#b4b3b1" stroke-width="1.5" stroke-linecap="butt"/>
<line x1="579.44" y1="724.1" x2="589.84" y2="724.1" stroke="#b4b3b1" stroke-width="1.5" stroke-linecap="butt"/>
<line x1="579.44" y1="761.9" x2="589.84" y2="761.9" stroke="#b4b3b1" stroke-width="1.5" stroke-linecap="butt"/>
<line x1="592.45" y1="744.5" x2="592.45" y2="699.3" stroke="#b4b3b1" stroke-width="1.5" stroke-linecap="butt"/>
<line x1="587.25" y1="699.3" x2="597.65" y2="699.3" stroke="#b4b3b1" stroke-width="1.5" stroke-linecap="butt"/>
<line x1="587.25" y1="744.5" x2="597.65" y2="744.5" stroke="#b4b3b1" stroke-width="1.5" stroke-linecap="butt"/>
<line x1="600.26" y1="754.2" x2="600.26" y2="712.4" stroke="#b4b3b1" stroke-width="1.5" stroke-linecap="butt"/>
<line x1="595.06" y1="712.4" x2="605.46" y2="712.4" stroke="#b4b3b1" stroke-width="1.5" stroke-linecap="butt"/>
<line x1="595.06" y1="754.2" x2="605.46" y2="754.2" stroke="#b4b3b1" stroke-width="1.5" stroke-linecap="butt"/>
<line x1="608.07" y1="713" x2="608.07" y2="663.8" stroke="#b4b3b1" stroke-width="1.5" stroke-linecap="butt"/>
<line x1="602.87" y1="663.8" x2="613.27" y2="663.8" stroke="#b4b3b1" stroke-width="1.5" stroke-linecap="butt"/>
<line x1="602.87" y1="713" x2="613.27" y2="713" stroke="#b4b3b1" stroke-width="1.5" stroke-linecap="butt"/>
<line x1="615.88" y1="709.7" x2="615.88" y2="665.6" stroke="#b4b3b1" stroke-width="1.5" stroke-linecap="butt"/>
<line x1="610.68" y1="665.6" x2="621.08" y2="665.6" stroke="#b4b3b1" stroke-width="1.5" stroke-linecap="butt"/>
<line x1="610.68" y1="709.7" x2="621.08" y2="709.7" stroke="#b4b3b1" stroke-width="1.5" stroke-linecap="butt"/>
<line x1="623.69" y1="692.6" x2="623.69" y2="653.4" stroke="#b4b3b1" stroke-width="1.5" stroke-linecap="butt"/>
<line x1="618.49" y1="653.4" x2="628.89" y2="653.4" stroke="#b4b3b1" stroke-width="1.5" stroke-linecap="butt"/>
<line x1="618.49" y1="692.6" x2="628.89" y2="692.6" stroke="#b4b3b1" stroke-width="1.5" stroke-linecap="butt"/>
<line x1="631.5" y1="716.4" x2="631.5" y2="671" stroke="#b4b3b1" stroke-width="1.5" stroke-linecap="butt"/>
<line x1="626.3" y1="671" x2="636.7" y2="671" stroke="#b4b3b1" stroke-width="1.5" stroke-linecap="butt"/>
<line x1="626.3" y1="716.4" x2="636.7" y2="716.4" stroke="#b4b3b1" stroke-width="1.5" stroke-linecap="butt"/>
<line x1="639.31" y1="713.3" x2="639.31" y2="678.6" stroke="#b4b3b1" stroke-width="1.5" stroke-linecap="butt"/>
<line x1="634.11" y1="678.6" x2="644.51" y2="678.6" stroke="#b4b3b1" stroke-width="1.5" stroke-linecap="butt"/>
<line x1="634.11" y1="713.3" x2="644.51" y2="713.3" stroke="#b4b3b1" stroke-width="1.5" stroke-linecap="butt"/>
<line x1="647.12" y1="714.2" x2="647.12" y2="681.3" stroke="#b4b3b1" stroke-width="1.5" stroke-linecap="butt"/>
<line x1="641.92" y1="681.3" x2="652.32" y2="681.3" stroke="#b4b3b1" stroke-width="1.5" stroke-linecap="butt"/>
<line x1="641.92" y1="714.2" x2="652.32" y2="714.2" stroke="#b4b3b1" stroke-width="1.5" stroke-linecap="butt"/>
<line x1="654.93" y1="699.8" x2="654.93" y2="658.4" stroke="#b4b3b1" stroke-width="1.5" stroke-linecap="butt"/>
<line x1="649.73" y1="658.4" x2="660.13" y2="658.4" stroke="#b4b3b1" stroke-width="1.5" stroke-linecap="butt"/>
<line x1="649.73" y1="699.8" x2="660.13" y2="699.8" stroke="#b4b3b1" stroke-width="1.5" stroke-linecap="butt"/>
<line x1="662.74" y1="680" x2="662.74" y2="644" stroke="#b4b3b1" stroke-width="1.5" stroke-linecap="butt"/>
<line x1="657.54" y1="644" x2="667.94" y2="644" stroke="#b4b3b1" stroke-width="1.5" stroke-linecap="butt"/>
<line x1="657.54" y1="680" x2="667.94" y2="680" stroke="#b4b3b1" stroke-width="1.5" stroke-linecap="butt"/>
<line x1="670.55" y1="725.9" x2="670.55" y2="688.7" stroke="#b4b3b1" stroke-width="1.5" stroke-linecap="butt"/>
<line x1="665.35" y1="688.7" x2="675.75" y2="688.7" stroke="#b4b3b1" stroke-width="1.5" stroke-linecap="butt"/>
<line x1="665.35" y1="725.9" x2="675.75" y2="725.9" stroke="#b4b3b1" stroke-width="1.5" stroke-linecap="butt"/>
<line x1="678.36" y1="720" x2="678.36" y2="673.7" stroke="#b4b3b1" stroke-width="1.5" stroke-linecap="butt"/>
<line x1="673.16" y1="673.7" x2="683.56" y2="673.7" stroke="#b4b3b1" stroke-width="1.5" stroke-linecap="butt"/>
<line x1="673.16" y1="720" x2="683.56" y2="720" stroke="#b4b3b1" stroke-width="1.5" stroke-linecap="butt"/>
<line x1="686.17" y1="682.2" x2="686.17" y2="632.7" stroke="#b4b3b1" stroke-width="1.5" stroke-linecap="butt"/>
<line x1="680.97" y1="632.7" x2="691.37" y2="632.7" stroke="#b4b3b1" stroke-width="1.5" stroke-linecap="butt"/>
<line x1="680.97" y1="682.2" x2="691.37" y2="682.2" stroke="#b4b3b1" stroke-width="1.5" stroke-linecap="butt"/>
<line x1="693.98" y1="686.3" x2="693.98" y2="639" stroke="#b4b3b1" stroke-width="1.5" stroke-linecap="butt"/>
<line x1="688.78" y1="639" x2="699.18" y2="639" stroke="#b4b3b1" stroke-width="1.5" stroke-linecap="butt"/>
<line x1="688.78" y1="686.3" x2="699.18" y2="686.3" stroke="#b4b3b1" stroke-width="1.5" stroke-linecap="butt"/>
<line x1="701.79" y1="714.2" x2="701.79" y2="669.2" stroke="#b4b3b1" stroke-width="1.5" stroke-linecap="butt"/>
<line x1="696.59" y1="669.2" x2="706.99" y2="669.2" stroke="#b4b3b1" stroke-width="1.5" stroke-linecap="butt"/>
<line x1="696.59" y1="714.2" x2="706.99" y2="714.2" stroke="#b4b3b1" stroke-width="1.5" stroke-linecap="butt"/>
<line x1="709.6" y1="726.5" x2="709.6" y2="671.4" stroke="#b4b3b1" stroke-width="1.5" stroke-linecap="butt"/>
<line x1="704.4" y1="671.4" x2="714.8" y2="671.4" stroke="#b4b3b1" stroke-width="1.5" stroke-linecap="butt"/>
<line x1="704.4" y1="726.5" x2="714.8" y2="726.5" stroke="#b4b3b1" stroke-width="1.5" stroke-linecap="butt"/>
<line x1="717.41" y1="662" x2="717.41" y2="623.8" stroke="#b4b3b1" stroke-width="1.5" stroke-linecap="butt"/>
<line x1="712.21" y1="623.8" x2="722.61" y2="623.8" stroke="#b4b3b1" stroke-width="1.5" stroke-linecap="butt"/>
<line x1="712.21" y1="662" x2="722.61" y2="662" stroke="#b4b3b1" stroke-width="1.5" stroke-linecap="butt"/>
<line x1="725.22" y1="678.6" x2="725.22" y2="635" stroke="#b4b3b1" stroke-width="1.5" stroke-linecap="butt"/>
<line x1="720.02" y1="635" x2="730.42" y2="635" stroke="#b4b3b1" stroke-width="1.5" stroke-linecap="butt"/>
<line x1="720.02" y1="678.6" x2="730.42" y2="678.6" stroke="#b4b3b1" stroke-width="1.5" stroke-linecap="butt"/>
<line x1="733.03" y1="670.6" x2="733.03" y2="635" stroke="#b4b3b1" stroke-width="1.5" stroke-linecap="butt"/>
<line x1="727.83" y1="635" x2="738.23" y2="635" stroke="#b4b3b1" stroke-width="1.5" stroke-linecap="butt"/>
<line x1="727.83" y1="670.6" x2="738.23" y2="670.6" stroke="#b4b3b1" stroke-width="1.5" stroke-linecap="butt"/>
<line x1="740.84" y1="663.4" x2="740.84" y2="639.5" stroke="#b4b3b1" stroke-width="1.5" stroke-linecap="butt"/>
<line x1="735.64" y1="639.5" x2="746.04" y2="639.5" stroke="#b4b3b1" stroke-width="1.5" stroke-linecap="butt"/>
<line x1="735.64" y1="663.4" x2="746.04" y2="663.4" stroke="#b4b3b1" stroke-width="1.5" stroke-linecap="butt"/>
<line x1="748.65" y1="665.2" x2="748.65" y2="631" stroke="#b4b3b1" stroke-width="1.5" stroke-linecap="butt"/>
<line x1="743.45" y1="631" x2="753.85" y2="631" stroke="#b4b3b1" stroke-width="1.5" stroke-linecap="butt"/>
<line x1="743.45" y1="665.2" x2="753.85" y2="665.2" stroke="#b4b3b1" stroke-width="1.5" stroke-linecap="butt"/>
<line x1="756.46" y1="716.9" x2="756.46" y2="665.2" stroke="#b4b3b1" stroke-width="1.5" stroke-linecap="butt"/>
<line x1="751.26" y1="665.2" x2="761.66" y2="665.2" stroke="#b4b3b1" stroke-width="1.5" stroke-linecap="butt"/>
<line x1="751.26" y1="716.9" x2="761.66" y2="716.9" stroke="#b4b3b1" stroke-width="1.5" stroke-linecap="butt"/>
<line x1="764.27" y1="731.9" x2="764.27" y2="684" stroke="#b4b3b1" stroke-width="1.5" stroke-linecap="butt"/>
<line x1="759.07" y1="684" x2="769.47" y2="684" stroke="#b4b3b1" stroke-width="1.5" stroke-linecap="butt"/>
<line x1="759.07" y1="731.9" x2="769.47" y2="731.9" stroke="#b4b3b1" stroke-width="1.5" stroke-linecap="butt"/>
<line x1="772.08" y1="703.4" x2="772.08" y2="666.9" stroke="#b4b3b1" stroke-width="1.5" stroke-linecap="butt"/>
<line x1="766.88" y1="666.9" x2="777.28" y2="666.9" stroke="#b4b3b1" stroke-width="1.5" stroke-linecap="butt"/>
<line x1="766.88" y1="703.4" x2="777.28" y2="703.4" stroke="#b4b3b1" stroke-width="1.5" stroke-linecap="butt"/>
<line x1="779.89" y1="688.1" x2="779.89" y2="634.6" stroke="#b4b3b1" stroke-width="1.5" stroke-linecap="butt"/>
<line x1="774.69" y1="634.6" x2="785.09" y2="634.6" stroke="#b4b3b1" stroke-width="1.5" stroke-linecap="butt"/>
<line x1="774.69" y1="688.1" x2="785.09" y2="688.1" stroke="#b4b3b1" stroke-width="1.5" stroke-linecap="butt"/>
<line x1="787.7" y1="735.5" x2="787.7" y2="663.8" stroke="#b4b3b1" stroke-width="1.5" stroke-linecap="butt"/>
<line x1="782.5" y1="663.8" x2="792.9" y2="663.8" stroke="#b4b3b1" stroke-width="1.5" stroke-linecap="butt"/>
<line x1="782.5" y1="735.5" x2="792.9" y2="735.5" stroke="#b4b3b1" stroke-width="1.5" stroke-linecap="butt"/>
<line x1="795.51" y1="759.2" x2="795.51" y2="697.7" stroke="#b4b3b1" stroke-width="1.5" stroke-linecap="butt"/>
<line x1="790.31" y1="697.7" x2="800.71" y2="697.7" stroke="#b4b3b1" stroke-width="1.5" stroke-linecap="butt"/>
<line x1="790.31" y1="759.2" x2="800.71" y2="759.2" stroke="#b4b3b1" stroke-width="1.5" stroke-linecap="butt"/>
<line x1="803.32" y1="704.2" x2="803.32" y2="656" stroke="#b4b3b1" stroke-width="1.5" stroke-linecap="butt"/>
<line x1="798.12" y1="656" x2="808.52" y2="656" stroke="#b4b3b1" stroke-width="1.5" stroke-linecap="butt"/>
<line x1="798.12" y1="704.2" x2="808.52" y2="704.2" stroke="#b4b3b1" stroke-width="1.5" stroke-linecap="butt"/>
<line x1="811.13" y1="737.7" x2="811.13" y2="682.9" stroke="#b4b3b1" stroke-width="1.5" stroke-linecap="butt"/>
<line x1="805.93" y1="682.9" x2="816.33" y2="682.9" stroke="#b4b3b1" stroke-width="1.5" stroke-linecap="butt"/>
<line x1="805.93" y1="737.7" x2="816.33" y2="737.7" stroke="#b4b3b1" stroke-width="1.5" stroke-linecap="butt"/>
<line x1="818.94" y1="701.2" x2="818.94" y2="657" stroke="#b4b3b1" stroke-width="1.5" stroke-linecap="butt"/>
<line x1="813.74" y1="657" x2="824.14" y2="657" stroke="#b4b3b1" stroke-width="1.5" stroke-linecap="butt"/>
<line x1="813.74" y1="701.2" x2="824.14" y2="701.2" stroke="#b4b3b1" stroke-width="1.5" stroke-linecap="butt"/>
<line x1="826.75" y1="736.1" x2="826.75" y2="690.1" stroke="#b4b3b1" stroke-width="1.5" stroke-linecap="butt"/>
<line x1="821.55" y1="690.1" x2="831.95" y2="690.1" stroke="#b4b3b1" stroke-width="1.5" stroke-linecap="butt"/>
<line x1="821.55" y1="736.1" x2="831.95" y2="736.1" stroke="#b4b3b1" stroke-width="1.5" stroke-linecap="butt"/>
<line x1="834.56" y1="711" x2="834.56" y2="655.4" stroke="#b4b3b1" stroke-width="1.5" stroke-linecap="butt"/>
<line x1="829.36" y1="655.4" x2="839.76" y2="655.4" stroke="#b4b3b1" stroke-width="1.5" stroke-linecap="butt"/>
<line x1="829.36" y1="711" x2="839.76" y2="711" stroke="#b4b3b1" stroke-width="1.5" stroke-linecap="butt"/>
<line x1="842.37" y1="708.2" x2="842.37" y2="655.4" stroke="#b4b3b1" stroke-width="1.5" stroke-linecap="butt"/>
<line x1="837.17" y1="655.4" x2="847.57" y2="655.4" stroke="#b4b3b1" stroke-width="1.5" stroke-linecap="butt"/>
<line x1="837.17" y1="708.2" x2="847.57" y2="708.2" stroke="#b4b3b1" stroke-width="1.5" stroke-linecap="butt"/>
<line x1="850.18" y1="701.2" x2="850.18" y2="643.3" stroke="#b4b3b1" stroke-width="1.5" stroke-linecap="butt"/>
<line x1="844.98" y1="643.3" x2="855.38" y2="643.3" stroke="#b4b3b1" stroke-width="1.5" stroke-linecap="butt"/>
<line x1="844.98" y1="701.2" x2="855.38" y2="701.2" stroke="#b4b3b1" stroke-width="1.5" stroke-linecap="butt"/>
<line x1="857.99" y1="690.5" x2="857.99" y2="633.7" stroke="#b4b3b1" stroke-width="1.5" stroke-linecap="butt"/>
<line x1="852.79" y1="633.7" x2="863.19" y2="633.7" stroke="#b4b3b1" stroke-width="1.5" stroke-linecap="butt"/>
<line x1="852.79" y1="690.5" x2="863.19" y2="690.5" stroke="#b4b3b1" stroke-width="1.5" stroke-linecap="butt"/>
<line x1="865.8" y1="690.1" x2="865.8" y2="620.2" stroke="#b4b3b1" stroke-width="1.5" stroke-linecap="butt"/>
<line x1="860.6" y1="620.2" x2="871" y2="620.2" stroke="#b4b3b1" stroke-width="1.5" stroke-linecap="butt"/>
<line x1="860.6" y1="690.1" x2="871" y2="690.1" stroke="#b4b3b1" stroke-width="1.5" stroke-linecap="butt"/>
<line x1="873.61" y1="769.2" x2="873.61" y2="712.6" stroke="#b4b3b1" stroke-width="1.5" stroke-linecap="butt"/>
<line x1="868.41" y1="712.6" x2="878.81" y2="712.6" stroke="#b4b3b1" stroke-width="1.5" stroke-linecap="butt"/>
<line x1="868.41" y1="769.2" x2="878.81" y2="769.2" stroke="#b4b3b1" stroke-width="1.5" stroke-linecap="butt"/>
<line x1="881.42" y1="721.2" x2="881.42" y2="656.4" stroke="#b4b3b1" stroke-width="1.5" stroke-linecap="butt"/>
<line x1="876.22" y1="656.4" x2="886.62" y2="656.4" stroke="#b4b3b1" stroke-width="1.5" stroke-linecap="butt"/>
<line x1="876.22" y1="721.2" x2="886.62" y2="721.2" stroke="#b4b3b1" stroke-width="1.5" stroke-linecap="butt"/>
<line x1="889.23" y1="749.8" x2="889.23" y2="686.9" stroke="#b4b3b1" stroke-width="1.5" stroke-linecap="butt"/>
<line x1="884.03" y1="686.9" x2="894.43" y2="686.9" stroke="#b4b3b1" stroke-width="1.5" stroke-linecap="butt"/>
<line x1="884.03" y1="749.8" x2="894.43" y2="749.8" stroke="#b4b3b1" stroke-width="1.5" stroke-linecap="butt"/>
<line x1="897.04" y1="732.1" x2="897.04" y2="688.5" stroke="#b4b3b1" stroke-width="1.5" stroke-linecap="butt"/>
<line x1="891.84" y1="688.5" x2="902.24" y2="688.5" stroke="#b4b3b1" stroke-width="1.5" stroke-linecap="butt"/>
<line x1="891.84" y1="732.1" x2="902.24" y2="732.1" stroke="#b4b3b1" stroke-width="1.5" stroke-linecap="butt"/>
<line x1="904.85" y1="711" x2="904.85" y2="651.4" stroke="#b4b3b1" stroke-width="1.5" stroke-linecap="butt"/>
<line x1="899.65" y1="651.4" x2="910.05" y2="651.4" stroke="#b4b3b1" stroke-width="1.5" stroke-linecap="butt"/>
<line x1="899.65" y1="711" x2="910.05" y2="711" stroke="#b4b3b1" stroke-width="1.5" stroke-linecap="butt"/>
<line x1="912.66" y1="680.5" x2="912.66" y2="618.8" stroke="#b4b3b1" stroke-width="1.5" stroke-linecap="butt"/>
<line x1="907.46" y1="618.8" x2="917.86" y2="618.8" stroke="#b4b3b1" stroke-width="1.5" stroke-linecap="butt"/>
<line x1="907.46" y1="680.5" x2="917.86" y2="680.5" stroke="#b4b3b1" stroke-width="1.5" stroke-linecap="butt"/>
<line x1="920.47" y1="732.1" x2="920.47" y2="678.5" stroke="#b4b3b1" stroke-width="1.5" stroke-linecap="butt"/>
<line x1="915.27" y1="678.5" x2="925.67" y2="678.5" stroke="#b4b3b1" stroke-width="1.5" stroke-linecap="butt"/>
<line x1="915.27" y1="732.1" x2="925.67" y2="732.1" stroke="#b4b3b1" stroke-width="1.5" stroke-linecap="butt"/>
<line x1="928.28" y1="644.3" x2="928.28" y2="592.5" stroke="#b4b3b1" stroke-width="1.5" stroke-linecap="butt"/>
<line x1="923.08" y1="592.5" x2="933.48" y2="592.5" stroke="#b4b3b1" stroke-width="1.5" stroke-linecap="butt"/>
<line x1="923.08" y1="644.3" x2="933.48" y2="644.3" stroke="#b4b3b1" stroke-width="1.5" stroke-linecap="butt"/>
<line x1="936.09" y1="775.9" x2="936.09" y2="716.2" stroke="#b4b3b1" stroke-width="1.5" stroke-linecap="butt"/>
<line x1="930.89" y1="716.2" x2="941.29" y2="716.2" stroke="#b4b3b1" stroke-width="1.5" stroke-linecap="butt"/>
<line x1="930.89" y1="775.9" x2="941.29" y2="775.9" stroke="#b4b3b1" stroke-width="1.5" stroke-linecap="butt"/>
<line x1="943.9" y1="713.2" x2="943.9" y2="635.9" stroke="#b4b3b1" stroke-width="1.5" stroke-linecap="butt"/>
<line x1="938.7" y1="635.9" x2="949.1" y2="635.9" stroke="#b4b3b1" stroke-width="1.5" stroke-linecap="butt"/>
<line x1="938.7" y1="713.2" x2="949.1" y2="713.2" stroke="#b4b3b1" stroke-width="1.5" stroke-linecap="butt"/>
<line x1="951.71" y1="733.7" x2="951.71" y2="642.9" stroke="#b4b3b1" stroke-width="1.5" stroke-linecap="butt"/>
<line x1="946.51" y1="642.9" x2="956.91" y2="642.9" stroke="#b4b3b1" stroke-width="1.5" stroke-linecap="butt"/>
<line x1="946.51" y1="733.7" x2="956.91" y2="733.7" stroke="#b4b3b1" stroke-width="1.5" stroke-linecap="butt"/>
<line x1="959.52" y1="741.3" x2="959.52" y2="651.4" stroke="#b4b3b1" stroke-width="1.5" stroke-linecap="butt"/>
<line x1="954.32" y1="651.4" x2="964.72" y2="651.4" stroke="#b4b3b1" stroke-width="1.5" stroke-linecap="butt"/>
<line x1="954.32" y1="741.3" x2="964.72" y2="741.3" stroke="#b4b3b1" stroke-width="1.5" stroke-linecap="butt"/>
<line x1="967.33" y1="691.5" x2="967.33" y2="637.3" stroke="#b4b3b1" stroke-width="1.5" stroke-linecap="butt"/>
<line x1="962.13" y1="637.3" x2="972.53" y2="637.3" stroke="#b4b3b1" stroke-width="1.5" stroke-linecap="butt"/>
<line x1="962.13" y1="691.5" x2="972.53" y2="691.5" stroke="#b4b3b1" stroke-width="1.5" stroke-linecap="butt"/>
<line x1="975.14" y1="736.1" x2="975.14" y2="670.4" stroke="#b4b3b1" stroke-width="1.5" stroke-linecap="butt"/>
<line x1="969.94" y1="670.4" x2="980.34" y2="670.4" stroke="#b4b3b1" stroke-width="1.5" stroke-linecap="butt"/>
<line x1="969.94" y1="736.1" x2="980.34" y2="736.1" stroke="#b4b3b1" stroke-width="1.5" stroke-linecap="butt"/>
<line x1="982.95" y1="768.8" x2="982.95" y2="702.6" stroke="#b4b3b1" stroke-width="1.5" stroke-linecap="butt"/>
<line x1="977.75" y1="702.6" x2="988.15" y2="702.6" stroke="#b4b3b1" stroke-width="1.5" stroke-linecap="butt"/>
<line x1="977.75" y1="768.8" x2="988.15" y2="768.8" stroke="#b4b3b1" stroke-width="1.5" stroke-linecap="butt"/>
<line x1="990.76" y1="731.1" x2="990.76" y2="663.4" stroke="#b4b3b1" stroke-width="1.5" stroke-linecap="butt"/>
<line x1="985.56" y1="663.4" x2="995.96" y2="663.4" stroke="#b4b3b1" stroke-width="1.5" stroke-linecap="butt"/>
<line x1="985.56" y1="731.1" x2="995.96" y2="731.1" stroke="#b4b3b1" stroke-width="1.5" stroke-linecap="butt"/>
<line x1="998.57" y1="628.3" x2="998.57" y2="591.1" stroke="#b4b3b1" stroke-width="1.5" stroke-linecap="butt"/>
<line x1="993.37" y1="591.1" x2="1003.77" y2="591.1" stroke="#b4b3b1" stroke-width="1.5" stroke-linecap="butt"/>
<line x1="993.37" y1="628.3" x2="1003.77" y2="628.3" stroke="#b4b3b1" stroke-width="1.5" stroke-linecap="butt"/>
<line x1="1006.38" y1="708.2" x2="1006.38" y2="602.6" stroke="#b4b3b1" stroke-width="1.5" stroke-linecap="butt"/>
<line x1="1001.18" y1="602.6" x2="1011.58" y2="602.6" stroke="#b4b3b1" stroke-width="1.5" stroke-linecap="butt"/>
<line x1="1001.18" y1="708.2" x2="1011.58" y2="708.2" stroke="#b4b3b1" stroke-width="1.5" stroke-linecap="butt"/>
<line x1="1014.19" y1="768.2" x2="1014.19" y2="648.4" stroke="#b4b3b1" stroke-width="1.5" stroke-linecap="butt"/>
<line x1="1008.99" y1="648.4" x2="1019.39" y2="648.4" stroke="#b4b3b1" stroke-width="1.5" stroke-linecap="butt"/>
<line x1="1008.99" y1="768.2" x2="1019.39" y2="768.2" stroke="#b4b3b1" stroke-width="1.5" stroke-linecap="butt"/>
<line x1="1022" y1="749.2" x2="1022" y2="630.3" stroke="#b4b3b1" stroke-width="1.5" stroke-linecap="butt"/>
<line x1="1016.8" y1="630.3" x2="1027.2" y2="630.3" stroke="#b4b3b1" stroke-width="1.5" stroke-linecap="butt"/>
<line x1="1016.8" y1="749.2" x2="1027.2" y2="749.2" stroke="#b4b3b1" stroke-width="1.5" stroke-linecap="butt"/>
<line x1="1029.81" y1="737.7" x2="1029.81" y2="623.3" stroke="#b4b3b1" stroke-width="1.5" stroke-linecap="butt"/>
<line x1="1024.61" y1="623.3" x2="1035.01" y2="623.3" stroke="#b4b3b1" stroke-width="1.5" stroke-linecap="butt"/>
<line x1="1024.61" y1="737.7" x2="1035.01" y2="737.7" stroke="#b4b3b1" stroke-width="1.5" stroke-linecap="butt"/>
<line x1="1037.62" y1="743.7" x2="1037.62" y2="662" stroke="#b4b3b1" stroke-width="1.5" stroke-linecap="butt"/>
<line x1="1032.42" y1="662" x2="1042.82" y2="662" stroke="#b4b3b1" stroke-width="1.5" stroke-linecap="butt"/>
<line x1="1032.42" y1="743.7" x2="1042.82" y2="743.7" stroke="#b4b3b1" stroke-width="1.5" stroke-linecap="butt"/>
<line x1="1045.43" y1="757.4" x2="1045.43" y2="637.9" stroke="#b4b3b1" stroke-width="1.5" stroke-linecap="butt"/>
<line x1="1040.23" y1="637.9" x2="1050.63" y2="637.9" stroke="#b4b3b1" stroke-width="1.5" stroke-linecap="butt"/>
<line x1="1040.23" y1="757.4" x2="1050.63" y2="757.4" stroke="#b4b3b1" stroke-width="1.5" stroke-linecap="butt"/>
<line x1="1053.24" y1="775.3" x2="1053.24" y2="654" stroke="#b4b3b1" stroke-width="1.5" stroke-linecap="butt"/>
<line x1="1048.04" y1="654" x2="1058.44" y2="654" stroke="#b4b3b1" stroke-width="1.5" stroke-linecap="butt"/>
<line x1="1048.04" y1="775.3" x2="1058.44" y2="775.3" stroke="#b4b3b1" stroke-width="1.5" stroke-linecap="butt"/>
<line x1="1061.05" y1="742.7" x2="1061.05" y2="565" stroke="#b4b3b1" stroke-width="1.5" stroke-linecap="butt"/>
<line x1="1055.85" y1="565" x2="1066.25" y2="565" stroke="#b4b3b1" stroke-width="1.5" stroke-linecap="butt"/>
<line x1="1055.85" y1="742.7" x2="1066.25" y2="742.7" stroke="#b4b3b1" stroke-width="1.5" stroke-linecap="butt"/>
<line x1="1068.86" y1="768.4" x2="1068.86" y2="633.3" stroke="#b4b3b1" stroke-width="1.5" stroke-linecap="butt"/>
<line x1="1063.66" y1="633.3" x2="1074.06" y2="633.3" stroke="#b4b3b1" stroke-width="1.5" stroke-linecap="butt"/>
<line x1="1063.66" y1="768.4" x2="1074.06" y2="768.4" stroke="#b4b3b1" stroke-width="1.5" stroke-linecap="butt"/>
<line x1="1076.67" y1="752.8" x2="1076.67" y2="595.5" stroke="#b4b3b1" stroke-width="1.5" stroke-linecap="butt"/>
<line x1="1071.47" y1="595.5" x2="1081.87" y2="595.5" stroke="#b4b3b1" stroke-width="1.5" stroke-linecap="butt"/>
<line x1="1071.47" y1="752.8" x2="1081.87" y2="752.8" stroke="#b4b3b1" stroke-width="1.5" stroke-linecap="butt"/>
<line x1="1084.48" y1="741.3" x2="1084.48" y2="565" stroke="#b4b3b1" stroke-width="1.5" stroke-linecap="butt"/>
<line x1="1079.28" y1="565" x2="1089.68" y2="565" stroke="#b4b3b1" stroke-width="1.5" stroke-linecap="butt"/>
<line x1="1079.28" y1="741.3" x2="1089.68" y2="741.3" stroke="#b4b3b1" stroke-width="1.5" stroke-linecap="butt"/>
<line x1="1092.29" y1="821.4" x2="1092.29" y2="580.5" stroke="#b4b3b1" stroke-width="1.5" stroke-linecap="butt"/>
<line x1="1087.09" y1="580.5" x2="1097.49" y2="580.5" stroke="#b4b3b1" stroke-width="1.5" stroke-linecap="butt"/>
<line x1="1087.09" y1="821.4" x2="1097.49" y2="821.4" stroke="#b4b3b1" stroke-width="1.5" stroke-linecap="butt"/>
<polyline points="553.4,808.7 561.21,784.4 569.02,780.5 576.83,742.1 584.64,743.4 592.45,722.3 600.26,734 608.07,688.1 615.88,687.7 623.69,673.2 631.5,693.5 639.31,695.7 647.12,697.5 654.93,679.5 662.74,662.5 670.55,707.4 678.36,697.5 686.17,657.5 693.98,662.9 701.79,692.2 709.6,699.3 717.41,643.1 725.22,657 733.03,653 740.84,652.1 748.65,648.5 756.46,691.7 764.27,708.3 772.08,685 779.89,662 787.7,699.8 795.51,729.2 803.32,680.1 811.13,710.2 818.94,679.1 826.75,713 834.56,682.9 842.37,681.9 850.18,672.4 857.99,662.4 865.8,655.4 873.61,740.7 881.42,689.1 889.23,718.2 897.04,710.2 904.85,681.1 912.66,649.4 920.47,705 928.28,618.6 936.09,746.3 943.9,674.9 951.71,688.5 959.52,696.5 967.33,664.8 975.14,703.2 982.95,736.1 990.76,697.1 998.57,609.8 1006.38,655.4 1014.19,708.6 1022,689.5 1029.81,680.5 1037.62,703 1045.43,698.2 1053.24,715 1061.05,653.8 1068.86,701 1076.67,674.5 1084.48,653.4 1092.29,701" fill="none" stroke="#b4b3b1" stroke-width="3.2" stroke-linejoin="round"/>
<circle cx="553.4" cy="808.7" r="4.5" fill="#b4b3b1"/>
<circle cx="561.21" cy="784.4" r="4.5" fill="#b4b3b1"/>
<circle cx="569.02" cy="780.5" r="4.5" fill="#b4b3b1"/>
<circle cx="576.83" cy="742.1" r="4.5" fill="#b4b3b1"/>
<circle cx="584.64" cy="743.4" r="4.5" fill="#b4b3b1"/>
<circle cx="592.45" cy="722.3" r="4.5" fill="#b4b3b1"/>
<circle cx="600.26" cy="734" r="4.5" fill="#b4b3b1"/>
<circle cx="608.07" cy="688.1" r="4.5" fill="#b4b3b1"/>
<circle cx="615.88" cy="687.7" r="4.5" fill="#b4b3b1"/>
<circle cx="623.69" cy="673.2" r="4.5" fill="#b4b3b1"/>
<circle cx="631.5" cy="693.5" r="4.5" fill="#b4b3b1"/>
<circle cx="639.31" cy="695.7" r="4.5" fill="#b4b3b1"/>
<circle cx="647.12" cy="697.5" r="4.5" fill="#b4b3b1"/>
<circle cx="654.93" cy="679.5" r="4.5" fill="#b4b3b1"/>
<circle cx="662.74" cy="662.5" r="4.5" fill="#b4b3b1"/>
<circle cx="670.55" cy="707.4" r="4.5" fill="#b4b3b1"/>
<circle cx="678.36" cy="697.5" r="4.5" fill="#b4b3b1"/>
<circle cx="686.17" cy="657.5" r="4.5" fill="#b4b3b1"/>
<circle cx="693.98" cy="662.9" r="4.5" fill="#b4b3b1"/>
<circle cx="701.79" cy="692.2" r="4.5" fill="#b4b3b1"/>
<circle cx="709.6" cy="699.3" r="4.5" fill="#b4b3b1"/>
<circle cx="717.41" cy="643.1" r="4.5" fill="#b4b3b1"/>
<circle cx="725.22" cy="657" r="4.5" fill="#b4b3b1"/>
<circle cx="733.03" cy="653" r="4.5" fill="#b4b3b1"/>
<circle cx="740.84" cy="652.1" r="4.5" fill="#b4b3b1"/>
<circle cx="748.65" cy="648.5" r="4.5" fill="#b4b3b1"/>
<circle cx="756.46" cy="691.7" r="4.5" fill="#b4b3b1"/>
<circle cx="764.27" cy="708.3" r="4.5" fill="#b4b3b1"/>
<circle cx="772.08" cy="685" r="4.5" fill="#b4b3b1"/>
<circle cx="779.89" cy="662" r="4.5" fill="#b4b3b1"/>
<circle cx="787.7" cy="699.8" r="4.5" fill="#b4b3b1"/>
<circle cx="795.51" cy="729.2" r="4.5" fill="#b4b3b1"/>
<circle cx="803.32" cy="680.1" r="4.5" fill="#b4b3b1"/>
<circle cx="811.13" cy="710.2" r="4.5" fill="#b4b3b1"/>
<circle cx="818.94" cy="679.1" r="4.5" fill="#b4b3b1"/>
<circle cx="826.75" cy="713" r="4.5" fill="#b4b3b1"/>
<circle cx="834.56" cy="682.9" r="4.5" fill="#b4b3b1"/>
<circle cx="842.37" cy="681.9" r="4.5" fill="#b4b3b1"/>
<circle cx="850.18" cy="672.4" r="4.5" fill="#b4b3b1"/>
<circle cx="857.99" cy="662.4" r="4.5" fill="#b4b3b1"/>
<circle cx="865.8" cy="655.4" r="4.5" fill="#b4b3b1"/>
<circle cx="873.61" cy="740.7" r="4.5" fill="#b4b3b1"/>
<circle cx="881.42" cy="689.1" r="4.5" fill="#b4b3b1"/>
<circle cx="889.23" cy="718.2" r="4.5" fill="#b4b3b1"/>
<circle cx="897.04" cy="710.2" r="4.5" fill="#b4b3b1"/>
<circle cx="904.85" cy="681.1" r="4.5" fill="#b4b3b1"/>
<circle cx="912.66" cy="649.4" r="4.5" fill="#b4b3b1"/>
<circle cx="920.47" cy="705" r="4.5" fill="#b4b3b1"/>
<circle cx="928.28" cy="618.6" r="4.5" fill="#b4b3b1"/>
<circle cx="936.09" cy="746.3" r="4.5" fill="#b4b3b1"/>
<circle cx="943.9" cy="674.9" r="4.5" fill="#b4b3b1"/>
<circle cx="951.71" cy="688.5" r="4.5" fill="#b4b3b1"/>
<circle cx="959.52" cy="696.5" r="4.5" fill="#b4b3b1"/>
<circle cx="967.33" cy="664.8" r="4.5" fill="#b4b3b1"/>
<circle cx="975.14" cy="703.2" r="4.5" fill="#b4b3b1"/>
<circle cx="982.95" cy="736.1" r="4.5" fill="#b4b3b1"/>
<circle cx="990.76" cy="697.1" r="4.5" fill="#b4b3b1"/>
<circle cx="998.57" cy="609.8" r="4.5" fill="#b4b3b1"/>
<circle cx="1006.38" cy="655.4" r="4.5" fill="#b4b3b1"/>
<circle cx="1014.19" cy="708.6" r="4.5" fill="#b4b3b1"/>
<circle cx="1022" cy="689.5" r="4.5" fill="#b4b3b1"/>
<circle cx="1029.81" cy="680.5" r="4.5" fill="#b4b3b1"/>
<circle cx="1037.62" cy="703" r="4.5" fill="#b4b3b1"/>
<circle cx="1045.43" cy="698.2" r="4.5" fill="#b4b3b1"/>
<circle cx="1053.24" cy="715" r="4.5" fill="#b4b3b1"/>
<circle cx="1061.05" cy="653.8" r="4.5" fill="#b4b3b1"/>
<circle cx="1068.86" cy="701" r="4.5" fill="#b4b3b1"/>
<circle cx="1076.67" cy="674.5" r="4.5" fill="#b4b3b1"/>
<circle cx="1084.48" cy="653.4" r="4.5" fill="#b4b3b1"/>
<circle cx="1092.29" cy="701" r="4.5" fill="#b4b3b1"/>
<line x1="548.8" y1="533.5" x2="548.8" y2="835" stroke="#000" stroke-width="4" stroke-linecap="butt"/>
<line x1="533.1" y1="833" x2="1097.9" y2="833" stroke="#000" stroke-width="4" stroke-linecap="butt"/>
<line x1="533.1" y1="833" x2="548.8" y2="833" stroke="#000" stroke-width="4" stroke-linecap="butt"/>
<text x="511.63" y="840.3" font-size="20.9">0</text>
<line x1="533.1" y1="758.65" x2="548.8" y2="758.65" stroke="#000" stroke-width="4" stroke-linecap="butt"/>
<text x="500.01" y="765.95" font-size="20.9">50</text>
<line x1="533.1" y1="684.3" x2="548.8" y2="684.3" stroke="#000" stroke-width="4" stroke-linecap="butt"/>
<text x="488.39" y="691.6" font-size="20.9">100</text>
<line x1="533.1" y1="609.95" x2="548.8" y2="609.95" stroke="#000" stroke-width="4" stroke-linecap="butt"/>
<text x="488.39" y="617.25" font-size="20.9">150</text>
<line x1="533.1" y1="535.6" x2="548.8" y2="535.6" stroke="#000" stroke-width="4" stroke-linecap="butt"/>
<text x="488.39" y="542.9" font-size="20.9">200</text>
<line x1="553.4" y1="833" x2="553.4" y2="848.7" stroke="#000" stroke-width="4.2" stroke-linecap="butt"/>
<g transform="translate(563.8 867.3) rotate(-45)">
<text x="-22.71" y="0" font-size="21.2">30</text>
</g>
<line x1="576.83" y1="833" x2="576.83" y2="848.7" stroke="#000" stroke-width="4.2" stroke-linecap="butt"/>
<g transform="translate(587.23 867.3) rotate(-45)">
<text x="-22.81" y="0" font-size="21.2">33</text>
</g>
<line x1="600.26" y1="833" x2="600.26" y2="848.7" stroke="#000" stroke-width="4.2" stroke-linecap="butt"/>
<g transform="translate(610.66 867.3) rotate(-45)">
<text x="-22.81" y="0" font-size="21.2">36</text>
</g>
<line x1="623.69" y1="833" x2="623.69" y2="848.7" stroke="#000" stroke-width="4.2" stroke-linecap="butt"/>
<g transform="translate(634.09 867.3) rotate(-45)">
<text x="-22.79" y="0" font-size="21.2">39</text>
</g>
<line x1="647.12" y1="833" x2="647.12" y2="848.7" stroke="#000" stroke-width="4.2" stroke-linecap="butt"/>
<g transform="translate(657.52 867.3) rotate(-45)">
<text x="-22.73" y="0" font-size="21.2">42</text>
</g>
<line x1="670.55" y1="833" x2="670.55" y2="848.7" stroke="#000" stroke-width="4.2" stroke-linecap="butt"/>
<g transform="translate(680.95 867.3) rotate(-45)">
<text x="-22.99" y="0" font-size="21.2">45</text>
</g>
<line x1="693.98" y1="833" x2="693.98" y2="848.7" stroke="#000" stroke-width="4.2" stroke-linecap="butt"/>
<g transform="translate(704.38 867.3) rotate(-45)">
<text x="-22.93" y="0" font-size="21.2">48</text>
</g>
<line x1="717.41" y1="833" x2="717.41" y2="848.7" stroke="#000" stroke-width="4.2" stroke-linecap="butt"/>
<g transform="translate(727.81 867.3) rotate(-45)">
<text x="-22.99" y="0" font-size="21.2">51</text>
</g>
<line x1="740.84" y1="833" x2="740.84" y2="848.7" stroke="#000" stroke-width="4.2" stroke-linecap="butt"/>
<g transform="translate(751.24 867.3) rotate(-45)">
<text x="-23.47" y="0" font-size="21.2">54</text>
</g>
<line x1="764.27" y1="833" x2="764.27" y2="848.7" stroke="#000" stroke-width="4.2" stroke-linecap="butt"/>
<g transform="translate(774.67 867.3) rotate(-45)">
<text x="-22.65" y="0" font-size="21.2">57</text>
</g>
<line x1="787.7" y1="833" x2="787.7" y2="848.7" stroke="#000" stroke-width="4.2" stroke-linecap="butt"/>
<g transform="translate(798.1 867.3) rotate(-45)">
<text x="-22.71" y="0" font-size="21.2">60</text>
</g>
<line x1="811.13" y1="833" x2="811.13" y2="848.7" stroke="#000" stroke-width="4.2" stroke-linecap="butt"/>
<g transform="translate(821.53 867.3) rotate(-45)">
<text x="-22.81" y="0" font-size="21.2">63</text>
</g>
<line x1="834.56" y1="833" x2="834.56" y2="848.7" stroke="#000" stroke-width="4.2" stroke-linecap="butt"/>
<g transform="translate(844.96 867.3) rotate(-45)">
<text x="-22.81" y="0" font-size="21.2">66</text>
</g>
<line x1="857.99" y1="833" x2="857.99" y2="848.7" stroke="#000" stroke-width="4.2" stroke-linecap="butt"/>
<g transform="translate(868.39 867.3) rotate(-45)">
<text x="-22.79" y="0" font-size="21.2">69</text>
</g>
<line x1="881.42" y1="833" x2="881.42" y2="848.7" stroke="#000" stroke-width="4.2" stroke-linecap="butt"/>
<g transform="translate(891.82 867.3) rotate(-45)">
<text x="-22.73" y="0" font-size="21.2">72</text>
</g>
<line x1="904.85" y1="833" x2="904.85" y2="848.7" stroke="#000" stroke-width="4.2" stroke-linecap="butt"/>
<g transform="translate(915.25 867.3) rotate(-45)">
<text x="-22.99" y="0" font-size="21.2">75</text>
</g>
<line x1="928.28" y1="833" x2="928.28" y2="848.7" stroke="#000" stroke-width="4.2" stroke-linecap="butt"/>
<g transform="translate(938.68 867.3) rotate(-45)">
<text x="-22.93" y="0" font-size="21.2">78</text>
</g>
<line x1="951.71" y1="833" x2="951.71" y2="848.7" stroke="#000" stroke-width="4.2" stroke-linecap="butt"/>
<g transform="translate(962.11 867.3) rotate(-45)">
<text x="-22.99" y="0" font-size="21.2">81</text>
</g>
<line x1="975.14" y1="833" x2="975.14" y2="848.7" stroke="#000" stroke-width="4.2" stroke-linecap="butt"/>
<g transform="translate(985.54 867.3) rotate(-45)">
<text x="-23.47" y="0" font-size="21.2">84</text>
</g>
<line x1="998.57" y1="833" x2="998.57" y2="848.7" stroke="#000" stroke-width="4.2" stroke-linecap="butt"/>
<g transform="translate(1008.97 867.3) rotate(-45)">
<text x="-22.65" y="0" font-size="21.2">87</text>
</g>
<line x1="1022" y1="833" x2="1022" y2="848.7" stroke="#000" stroke-width="4.2" stroke-linecap="butt"/>
<g transform="translate(1032.4 867.3) rotate(-45)">
<text x="-22.71" y="0" font-size="21.2">90</text>
</g>
<line x1="1045.43" y1="833" x2="1045.43" y2="848.7" stroke="#000" stroke-width="4.2" stroke-linecap="butt"/>
<g transform="translate(1055.83 867.3) rotate(-45)">
<text x="-22.81" y="0" font-size="21.2">93</text>
</g>
<line x1="1068.86" y1="833" x2="1068.86" y2="848.7" stroke="#000" stroke-width="4.2" stroke-linecap="butt"/>
<g transform="translate(1079.26 867.3) rotate(-45)">
<text x="-22.81" y="0" font-size="21.2">96</text>
</g>
<line x1="1092.29" y1="833" x2="1092.29" y2="848.7" stroke="#000" stroke-width="4.2" stroke-linecap="butt"/>
<g transform="translate(1102.69 867.3) rotate(-45)">
<text x="-22.79" y="0" font-size="21.2">99</text>
</g>
<text x="772.7" y="915.8" font-size="21.5" textLength="101.69" lengthAdjust="spacingAndGlyphs">Age (days)</text>
<g transform="translate(469.9 0) rotate(-90)">
<text x="-753.73" y="0" font-size="21.1" textLength="137.61" lengthAdjust="spacingAndGlyphs">Fall latency (s)</text>
</g>
<text x="1480.56" y="506.3" font-size="27.5" textLength="111.05" lengthAdjust="spacingAndGlyphs">Rotarod</text>
<line x1="1224.5" y1="833.9" x2="1240.4" y2="833.9" stroke="#000" stroke-width="4" stroke-linecap="butt"/>
<text x="1199.69" y="840.1" font-size="20.8">0</text>
<line x1="1224.5" y1="757.62" x2="1240.4" y2="757.62" stroke="#000" stroke-width="4" stroke-linecap="butt"/>
<text x="1188.12" y="763.83" font-size="20.8">50</text>
<line x1="1224.5" y1="681.35" x2="1240.4" y2="681.35" stroke="#000" stroke-width="4" stroke-linecap="butt"/>
<text x="1176.55" y="687.55" font-size="20.8">100</text>
<line x1="1224.5" y1="605.07" x2="1240.4" y2="605.07" stroke="#000" stroke-width="4" stroke-linecap="butt"/>
<text x="1176.55" y="611.27" font-size="20.8">150</text>
<line x1="1224.5" y1="528.8" x2="1240.4" y2="528.8" stroke="#000" stroke-width="4" stroke-linecap="butt"/>
<text x="1176.55" y="535" font-size="20.8">200</text>
<line x1="1240.4" y1="526.6" x2="1240.4" y2="836" stroke="#000" stroke-width="4.6" stroke-linecap="butt"/>
<line x1="1224.5" y1="833.9" x2="1810.1" y2="833.9" stroke="#000" stroke-width="4" stroke-linecap="butt"/>
<line x1="1305.1" y1="833.9" x2="1305.1" y2="848.8" stroke="#000" stroke-width="4" stroke-linecap="butt"/>
<text x="1293.51" y="875.4" font-size="18.3" textLength="23.55" lengthAdjust="spacingAndGlyphs">30</text>
<line x1="1452.1" y1="833.9" x2="1452.1" y2="848.8" stroke="#000" stroke-width="4" stroke-linecap="butt"/>
<text x="1440.68" y="875.4" font-size="18.3" textLength="23.38" lengthAdjust="spacingAndGlyphs">40</text>
<line x1="1598.4" y1="833.9" x2="1598.4" y2="848.8" stroke="#000" stroke-width="4" stroke-linecap="butt"/>
<text x="1586.64" y="875.4" font-size="18.3" textLength="23.73" lengthAdjust="spacingAndGlyphs">50</text>
<line x1="1745" y1="833.9" x2="1745" y2="848.8" stroke="#000" stroke-width="4" stroke-linecap="butt"/>
<text x="1733.11" y="875.4" font-size="18.3" textLength="23.87" lengthAdjust="spacingAndGlyphs">60</text>
<text x="1474.8" y="909.8" font-size="21.5" textLength="101.79" lengthAdjust="spacingAndGlyphs">Age (days)</text>
<g transform="translate(1152 0) rotate(-90)">
<text x="-753.33" y="0" font-size="21.4" textLength="137.82" lengthAdjust="spacingAndGlyphs">Fall latency (s)</text>
</g>
<rect x="1261.45" y="810.2" width="32" height="23.7" fill="#1e8e50"/>
<path d="M1261.45 833.9V810.2H1293.45V833.9" fill="none" stroke="#000" stroke-width="4" stroke-linejoin="miter"/>
<line x1="1277.45" y1="819.1" x2="1277.45" y2="796.9" stroke="#1a1a1a" stroke-width="1.7" stroke-linecap="butt"/>
<line x1="1267.85" y1="796.9" x2="1287.05" y2="796.9" stroke="#1a1a1a" stroke-width="1.7" stroke-linecap="butt"/>
<line x1="1267.85" y1="819.1" x2="1287.05" y2="819.1" stroke="#1a1a1a" stroke-width="1.7" stroke-linecap="butt"/>
<rect x="1316.4" y="812.1" width="32" height="21.8" fill="#959595"/>
<path d="M1316.4 833.9V812.1H1348.4V833.9" fill="none" stroke="#000" stroke-width="4" stroke-linejoin="miter"/>
<line x1="1332.4" y1="818" x2="1332.4" y2="800.5" stroke="#1a1a1a" stroke-width="1.7" stroke-linecap="butt"/>
<line x1="1322.8" y1="800.5" x2="1342" y2="800.5" stroke="#1a1a1a" stroke-width="1.7" stroke-linecap="butt"/>
<line x1="1322.8" y1="818" x2="1342" y2="818" stroke="#1a1a1a" stroke-width="1.7" stroke-linecap="butt"/>
<rect x="1408.05" y="792.4" width="32" height="41.5" fill="#1e8e50"/>
<path d="M1408.05 833.9V792.4H1440.05V833.9" fill="none" stroke="#000" stroke-width="4" stroke-linejoin="miter"/>
<line x1="1424.05" y1="812.2" x2="1424.05" y2="767.4" stroke="#1a1a1a" stroke-width="1.7" stroke-linecap="butt"/>
<line x1="1414.45" y1="767.4" x2="1433.65" y2="767.4" stroke="#1a1a1a" stroke-width="1.7" stroke-linecap="butt"/>
<line x1="1414.45" y1="812.2" x2="1433.65" y2="812.2" stroke="#1a1a1a" stroke-width="1.7" stroke-linecap="butt"/>
<rect x="1462.85" y="694.1" width="32" height="139.8" fill="#959595"/>
<path d="M1462.85 833.9V694.1H1494.85V833.9" fill="none" stroke="#000" stroke-width="4" stroke-linejoin="miter"/>
<line x1="1478.85" y1="714.6" x2="1478.85" y2="668.2" stroke="#1a1a1a" stroke-width="1.7" stroke-linecap="butt"/>
<line x1="1469.25" y1="668.2" x2="1488.45" y2="668.2" stroke="#1a1a1a" stroke-width="1.7" stroke-linecap="butt"/>
<line x1="1469.25" y1="714.6" x2="1488.45" y2="714.6" stroke="#1a1a1a" stroke-width="1.7" stroke-linecap="butt"/>
<rect x="1554.55" y="824.1" width="32" height="9.8" fill="#1e8e50"/>
<path d="M1554.55 833.9V824.1H1586.55V833.9" fill="none" stroke="#000" stroke-width="4" stroke-linejoin="miter"/>
<line x1="1570.55" y1="826" x2="1570.55" y2="811.4" stroke="#1a1a1a" stroke-width="1.7" stroke-linecap="butt"/>
<line x1="1560.95" y1="811.4" x2="1580.15" y2="811.4" stroke="#1a1a1a" stroke-width="1.7" stroke-linecap="butt"/>
<line x1="1560.95" y1="826" x2="1580.15" y2="826" stroke="#1a1a1a" stroke-width="1.7" stroke-linecap="butt"/>
<rect x="1609.9" y="700.3" width="32" height="133.6" fill="#959595"/>
<path d="M1609.9 833.9V700.3H1641.9V833.9" fill="none" stroke="#000" stroke-width="4" stroke-linejoin="miter"/>
<line x1="1625.9" y1="724.9" x2="1625.9" y2="668.9" stroke="#1a1a1a" stroke-width="1.7" stroke-linecap="butt"/>
<line x1="1616.3" y1="668.9" x2="1635.5" y2="668.9" stroke="#1a1a1a" stroke-width="1.7" stroke-linecap="butt"/>
<line x1="1616.3" y1="724.9" x2="1635.5" y2="724.9" stroke="#1a1a1a" stroke-width="1.7" stroke-linecap="butt"/>
<rect x="1756.35" y="700.3" width="32" height="133.6" fill="#959595"/>
<path d="M1756.35 833.9V700.3H1788.35V833.9" fill="none" stroke="#000" stroke-width="4" stroke-linejoin="miter"/>
<line x1="1772.35" y1="733.9" x2="1772.35" y2="660.6" stroke="#1a1a1a" stroke-width="1.7" stroke-linecap="butt"/>
<line x1="1762.75" y1="660.6" x2="1781.95" y2="660.6" stroke="#1a1a1a" stroke-width="1.7" stroke-linecap="butt"/>
<line x1="1762.75" y1="733.9" x2="1781.95" y2="733.9" stroke="#1a1a1a" stroke-width="1.7" stroke-linecap="butt"/>
<line x1="1224.5" y1="833.9" x2="1810.1" y2="833.9" stroke="#000" stroke-width="4" stroke-linecap="butt"/>
<circle cx="1277.5" cy="743.2" r="4.6" fill="#000"/>
<circle cx="1277.5" cy="777.5" r="4.6" fill="#000"/>
<circle cx="1277.5" cy="815.7" r="4.6" fill="#000"/>
<circle cx="1263.8" cy="822.8" r="4.6" fill="#000"/>
<circle cx="1291.5" cy="816.6" r="4.6" fill="#000"/>
<circle cx="1277.5" cy="826.7" r="4.6" fill="#000"/>
<circle cx="1291.5" cy="827.2" r="4.6" fill="#000"/>
<circle cx="1263.8" cy="832.6" r="4.6" fill="#000"/>
<circle cx="1332.5" cy="734.8" r="4.6" fill="#000"/>
<circle cx="1332.5" cy="773.4" r="4.6" fill="#000"/>
<circle cx="1337" cy="805" r="4.6" fill="#000"/>
<circle cx="1328.1" cy="813.4" r="4.6" fill="#000"/>
<circle cx="1337" cy="819.3" r="4.6" fill="#000"/>
<circle cx="1318.7" cy="822.3" r="4.6" fill="#000"/>
<circle cx="1345.8" cy="817.8" r="4.6" fill="#000"/>
<circle cx="1328.1" cy="827.7" r="4.6" fill="#000"/>
<circle cx="1318.7" cy="832.6" r="4.6" fill="#000"/>
<circle cx="1337" cy="832.6" r="4.6" fill="#000"/>
<circle cx="1346.3" cy="828.7" r="4.6" fill="#000"/>
<circle cx="1423.7" cy="660.9" r="4.6" fill="#000"/>
<circle cx="1423.7" cy="726" r="4.6" fill="#000"/>
<circle cx="1419.2" cy="802" r="4.6" fill="#000"/>
<circle cx="1428.4" cy="799" r="4.6" fill="#000"/>
<circle cx="1410.1" cy="832.6" r="4.6" fill="#000"/>
<circle cx="1419.2" cy="830.7" r="4.6" fill="#000"/>
<circle cx="1428.4" cy="832.6" r="4.6" fill="#000"/>
<circle cx="1437.3" cy="832.6" r="4.6" fill="#000"/>
<circle cx="1479" cy="558.9" r="4.6" fill="#000"/>
<circle cx="1479" cy="593.1" r="4.6" fill="#000"/>
<circle cx="1472.1" cy="637.8" r="4.6" fill="#000"/>
<circle cx="1485.9" cy="637.8" r="4.6" fill="#000"/>
<circle cx="1465.9" cy="697.3" r="4.6" fill="#000"/>
<circle cx="1479" cy="697.3" r="4.6" fill="#000"/>
<circle cx="1491.8" cy="697.3" r="4.6" fill="#000"/>
<circle cx="1479" cy="735.6" r="4.6" fill="#000"/>
<circle cx="1472.1" cy="777.9" r="4.6" fill="#000"/>
<circle cx="1485.9" cy="777.9" r="4.6" fill="#000"/>
<circle cx="1479" cy="788.2" r="4.6" fill="#000"/>
<circle cx="1569.7" cy="761.6" r="4.6" fill="#000"/>
<circle cx="1557.6" cy="832.5" r="4.6" fill="#000"/>
<circle cx="1566.2" cy="832.5" r="4.6" fill="#000"/>
<circle cx="1574.8" cy="832.5" r="4.6" fill="#000"/>
<circle cx="1583.5" cy="832.5" r="4.6" fill="#000"/>
<circle cx="1570" cy="827" r="4.6" fill="#000"/>
<circle cx="1625.7" cy="558.9" r="4.6" fill="#000"/>
<circle cx="1625.7" cy="577.2" r="4.6" fill="#000"/>
<circle cx="1625.7" cy="627.7" r="4.6" fill="#000"/>
<circle cx="1616.4" cy="655.1" r="4.6" fill="#000"/>
<circle cx="1635.4" cy="647.4" r="4.6" fill="#000"/>
<circle cx="1625.7" cy="700" r="4.6" fill="#000"/>
<circle cx="1616.4" cy="718.4" r="4.6" fill="#000"/>
<circle cx="1635.4" cy="722.5" r="4.6" fill="#000"/>
<circle cx="1625.7" cy="796.2" r="4.6" fill="#000"/>
<circle cx="1616.4" cy="831.5" r="4.6" fill="#000"/>
<circle cx="1635.4" cy="826.3" r="4.6" fill="#000"/>
<circle cx="1765.1" cy="558.9" r="4.6" fill="#000"/>
<circle cx="1778.9" cy="558.9" r="4.6" fill="#000"/>
<circle cx="1758.2" cy="570.3" r="4.6" fill="#000"/>
<circle cx="1772" cy="575.5" r="4.6" fill="#000"/>
<circle cx="1772" cy="602.1" r="4.6" fill="#000"/>
<circle cx="1772" cy="745.7" r="4.6" fill="#000"/>
<circle cx="1772" cy="776.1" r="4.6" fill="#000"/>
<circle cx="1772" cy="796.2" r="4.6" fill="#000"/>
<circle cx="1772" cy="824.5" r="4.6" fill="#000"/>
<circle cx="1758.2" cy="831.5" r="4.6" fill="#000"/>
<circle cx="1785.8" cy="831.5" r="4.6" fill="#000"/>
<circle cx="1704.6" cy="832.5" r="4.6" fill="#000"/>
<circle cx="1711.1" cy="832.5" r="4.6" fill="#000"/>
<circle cx="1717.6" cy="832.5" r="4.6" fill="#000"/>
<circle cx="1724.1" cy="832.5" r="4.6" fill="#000"/>
<circle cx="1730.5" cy="832.5" r="4.6" fill="#000"/>
<line x1="1435.8" y1="538.1" x2="1494.6" y2="538.1" stroke="#000" stroke-width="2.2" stroke-linecap="butt"/>
<text x="1451.88" y="544.27" font-size="32.52" textLength="30.65" lengthAdjust="spacingAndGlyphs">**</text>
<line x1="1579" y1="538.5" x2="1637.1" y2="538.5" stroke="#000" stroke-width="2.2" stroke-linecap="butt"/>
<text x="1583.38" y="544.27" font-size="32.52" textLength="46.15" lengthAdjust="spacingAndGlyphs">***</text>
<line x1="1724.6" y1="535.7" x2="1783.1" y2="535.7" stroke="#000" stroke-width="2.2" stroke-linecap="butt"/>
<text x="1740.79" y="541.87" font-size="32.52" textLength="29.55" lengthAdjust="spacingAndGlyphs">**</text>
<rect x="1827.2" y="554" width="31.6" height="17.3" fill="#1b8a4c" stroke="#000" stroke-width="4.2"/>
<rect x="1827.2" y="624.2" width="31.6" height="17.4" fill="#b4b3b4" stroke="#000" stroke-width="4.2"/>
<text x="1874.44" y="563.8" font-size="23.3" textLength="108.04" lengthAdjust="spacingAndGlyphs">cKO mice,</text>
<text x="1874.41" y="590.6" font-size="23.3" textLength="82.16" lengthAdjust="spacingAndGlyphs">Ctrl diet</text>
<text x="1874.44" y="633.3" font-size="23.3" textLength="108.04" lengthAdjust="spacingAndGlyphs">cKO mice,</text>
<text x="1874.67" y="660" font-size="23.3" textLength="123.49" lengthAdjust="spacingAndGlyphs">SG-free diet</text>
<text x="-1.36" y="998.97" font-size="44.17" textLength="23.61" lengthAdjust="spacingAndGlyphs">e</text>
<text x="332.9" y="1013.8" font-size="27.5" textLength="124.87" lengthAdjust="spacingAndGlyphs">Paralysis</text>
<line x1="87.1" y1="1353" x2="102.3" y2="1353" stroke="#000" stroke-width="4.2" stroke-linecap="butt"/>
<text x="62.99" y="1361.2" font-size="23.5">0</text>
<line x1="87.1" y1="1278.6" x2="102.3" y2="1278.6" stroke="#000" stroke-width="4.2" stroke-linecap="butt"/>
<text x="49.61" y="1286.8" font-size="23.5">25</text>
<line x1="87.1" y1="1204.2" x2="102.3" y2="1204.2" stroke="#000" stroke-width="4.2" stroke-linecap="butt"/>
<text x="49.92" y="1212.4" font-size="23.5">50</text>
<line x1="87.1" y1="1129.8" x2="102.3" y2="1129.8" stroke="#000" stroke-width="4.2" stroke-linecap="butt"/>
<text x="49.61" y="1138" font-size="23.5">75</text>
<line x1="87.1" y1="1055.4" x2="102.3" y2="1055.4" stroke="#000" stroke-width="4.2" stroke-linecap="butt"/>
<text x="36.86" y="1063.6" font-size="23.5">100</text>
<line x1="102.3" y1="1053.3" x2="102.3" y2="1355.2" stroke="#000" stroke-width="4.5" stroke-linecap="butt"/>
<line x1="87.1" y1="1353" x2="687.6" y2="1353" stroke="#000" stroke-width="4.4" stroke-linecap="butt"/>
<line x1="113.5" y1="1353" x2="113.5" y2="1368.3" stroke="#000" stroke-width="4.2" stroke-linecap="butt"/>
<g transform="translate(125.3 1387.7) rotate(-45)">
<text x="-25.18" y="0" font-size="23.5">30</text>
</g>
<line x1="146.66" y1="1353" x2="146.66" y2="1368.3" stroke="#000" stroke-width="4.2" stroke-linecap="butt"/>
<g transform="translate(158.46 1387.7) rotate(-45)">
<text x="-26.01" y="0" font-size="23.5">34</text>
</g>
<line x1="179.82" y1="1353" x2="179.82" y2="1368.3" stroke="#000" stroke-width="4.2" stroke-linecap="butt"/>
<g transform="translate(191.62 1387.7) rotate(-45)">
<text x="-25.42" y="0" font-size="23.5">38</text>
</g>
<line x1="212.98" y1="1353" x2="212.98" y2="1368.3" stroke="#000" stroke-width="4.2" stroke-linecap="butt"/>
<g transform="translate(224.78 1387.7) rotate(-45)">
<text x="-25.2" y="0" font-size="23.5">42</text>
</g>
<line x1="246.14" y1="1353" x2="246.14" y2="1368.3" stroke="#000" stroke-width="4.2" stroke-linecap="butt"/>
<g transform="translate(257.94 1387.7) rotate(-45)">
<text x="-25.29" y="0" font-size="23.5">46</text>
</g>
<line x1="279.3" y1="1353" x2="279.3" y2="1368.3" stroke="#000" stroke-width="4.2" stroke-linecap="butt"/>
<g transform="translate(291.1 1387.7) rotate(-45)">
<text x="-25.18" y="0" font-size="23.5">50</text>
</g>
<line x1="312.46" y1="1353" x2="312.46" y2="1368.3" stroke="#000" stroke-width="4.2" stroke-linecap="butt"/>
<g transform="translate(324.26 1387.7) rotate(-45)">
<text x="-26.01" y="0" font-size="23.5">54</text>
</g>
<line x1="345.62" y1="1353" x2="345.62" y2="1368.3" stroke="#000" stroke-width="4.2" stroke-linecap="butt"/>
<g transform="translate(357.42 1387.7) rotate(-45)">
<text x="-25.42" y="0" font-size="23.5">58</text>
</g>
<line x1="378.78" y1="1353" x2="378.78" y2="1368.3" stroke="#000" stroke-width="4.2" stroke-linecap="butt"/>
<g transform="translate(390.58 1387.7) rotate(-45)">
<text x="-25.2" y="0" font-size="23.5">62</text>
</g>
<line x1="411.94" y1="1353" x2="411.94" y2="1368.3" stroke="#000" stroke-width="4.2" stroke-linecap="butt"/>
<g transform="translate(423.74 1387.7) rotate(-45)">
<text x="-25.29" y="0" font-size="23.5">66</text>
</g>
<line x1="445.1" y1="1353" x2="445.1" y2="1368.3" stroke="#000" stroke-width="4.2" stroke-linecap="butt"/>
<g transform="translate(456.9 1387.7) rotate(-45)">
<text x="-25.18" y="0" font-size="23.5">70</text>
</g>
<line x1="478.26" y1="1353" x2="478.26" y2="1368.3" stroke="#000" stroke-width="4.2" stroke-linecap="butt"/>
<g transform="translate(490.06 1387.7) rotate(-45)">
<text x="-26.01" y="0" font-size="23.5">74</text>
</g>
<line x1="511.42" y1="1353" x2="511.42" y2="1368.3" stroke="#000" stroke-width="4.2" stroke-linecap="butt"/>
<g transform="translate(523.22 1387.7) rotate(-45)">
<text x="-25.42" y="0" font-size="23.5">78</text>
</g>
<line x1="544.58" y1="1353" x2="544.58" y2="1368.3" stroke="#000" stroke-width="4.2" stroke-linecap="butt"/>
<g transform="translate(556.38 1387.7) rotate(-45)">
<text x="-25.2" y="0" font-size="23.5">82</text>
</g>
<line x1="577.74" y1="1353" x2="577.74" y2="1368.3" stroke="#000" stroke-width="4.2" stroke-linecap="butt"/>
<g transform="translate(589.54 1387.7) rotate(-45)">
<text x="-25.29" y="0" font-size="23.5">86</text>
</g>
<line x1="610.9" y1="1353" x2="610.9" y2="1368.3" stroke="#000" stroke-width="4.2" stroke-linecap="butt"/>
<g transform="translate(622.7 1387.7) rotate(-45)">
<text x="-25.18" y="0" font-size="23.5">90</text>
</g>
<line x1="644.06" y1="1353" x2="644.06" y2="1368.3" stroke="#000" stroke-width="4.2" stroke-linecap="butt"/>
<g transform="translate(655.86 1387.7) rotate(-45)">
<text x="-26.01" y="0" font-size="23.5">94</text>
</g>
<line x1="677.22" y1="1353" x2="677.22" y2="1368.3" stroke="#000" stroke-width="4.2" stroke-linecap="butt"/>
<g transform="translate(689.02 1387.7) rotate(-45)">
<text x="-25.42" y="0" font-size="23.5">98</text>
</g>
<text x="339.45" y="1438.6" font-size="23.8" textLength="112.34" lengthAdjust="spacingAndGlyphs">Age (days)</text>
<g transform="translate(18.3 0) rotate(-90)">
<text x="-1308.15" y="0" font-size="23.3" textLength="195.19" lengthAdjust="spacingAndGlyphs">% Time paralyzezd</text>
</g>
<line x1="212.98" y1="1343.9" x2="212.98" y2="1336" stroke="#1b8a4c" stroke-width="1.8" stroke-linecap="butt"/>
<line x1="206.68" y1="1336" x2="219.28" y2="1336" stroke="#1b8a4c" stroke-width="1.8" stroke-linecap="butt"/>
<line x1="206.68" y1="1343.9" x2="219.28" y2="1343.9" stroke="#1b8a4c" stroke-width="1.8" stroke-linecap="butt"/>
<line x1="229.56" y1="1334.9" x2="229.56" y2="1295.8" stroke="#1b8a4c" stroke-width="1.8" stroke-linecap="butt"/>
<line x1="223.26" y1="1295.8" x2="235.86" y2="1295.8" stroke="#1b8a4c" stroke-width="1.8" stroke-linecap="butt"/>
<line x1="223.26" y1="1334.9" x2="235.86" y2="1334.9" stroke="#1b8a4c" stroke-width="1.8" stroke-linecap="butt"/>
<line x1="246.14" y1="1338.4" x2="246.14" y2="1308" stroke="#1b8a4c" stroke-width="1.8" stroke-linecap="butt"/>
<line x1="239.84" y1="1308" x2="252.44" y2="1308" stroke="#1b8a4c" stroke-width="1.8" stroke-linecap="butt"/>
<line x1="239.84" y1="1338.4" x2="252.44" y2="1338.4" stroke="#1b8a4c" stroke-width="1.8" stroke-linecap="butt"/>
<line x1="262.72" y1="1296.9" x2="262.72" y2="1213.2" stroke="#1b8a4c" stroke-width="1.8" stroke-linecap="butt"/>
<line x1="256.42" y1="1213.2" x2="269.02" y2="1213.2" stroke="#1b8a4c" stroke-width="1.8" stroke-linecap="butt"/>
<line x1="256.42" y1="1296.9" x2="269.02" y2="1296.9" stroke="#1b8a4c" stroke-width="1.8" stroke-linecap="butt"/>
<line x1="279.3" y1="1276.5" x2="279.3" y2="1200.7" stroke="#1b8a4c" stroke-width="1.8" stroke-linecap="butt"/>
<line x1="273" y1="1200.7" x2="285.6" y2="1200.7" stroke="#1b8a4c" stroke-width="1.8" stroke-linecap="butt"/>
<line x1="273" y1="1276.5" x2="285.6" y2="1276.5" stroke="#1b8a4c" stroke-width="1.8" stroke-linecap="butt"/>
<line x1="295.88" y1="1205.2" x2="295.88" y2="1113.5" stroke="#1b8a4c" stroke-width="1.8" stroke-linecap="butt"/>
<line x1="289.58" y1="1113.5" x2="302.18" y2="1113.5" stroke="#1b8a4c" stroke-width="1.8" stroke-linecap="butt"/>
<line x1="289.58" y1="1205.2" x2="302.18" y2="1205.2" stroke="#1b8a4c" stroke-width="1.8" stroke-linecap="butt"/>
<line x1="312.46" y1="1140.5" x2="312.46" y2="1077.2" stroke="#1b8a4c" stroke-width="1.8" stroke-linecap="butt"/>
<line x1="306.16" y1="1077.2" x2="318.76" y2="1077.2" stroke="#1b8a4c" stroke-width="1.8" stroke-linecap="butt"/>
<line x1="306.16" y1="1140.5" x2="318.76" y2="1140.5" stroke="#1b8a4c" stroke-width="1.8" stroke-linecap="butt"/>
<line x1="329.04" y1="1123.2" x2="329.04" y2="1088.6" stroke="#1b8a4c" stroke-width="1.8" stroke-linecap="butt"/>
<line x1="322.74" y1="1088.6" x2="335.34" y2="1088.6" stroke="#1b8a4c" stroke-width="1.8" stroke-linecap="butt"/>
<line x1="322.74" y1="1123.2" x2="335.34" y2="1123.2" stroke="#1b8a4c" stroke-width="1.8" stroke-linecap="butt"/>
<line x1="345.62" y1="1293.4" x2="345.62" y2="1172.4" stroke="#1b8a4c" stroke-width="1.8" stroke-linecap="butt"/>
<line x1="339.32" y1="1172.4" x2="351.92" y2="1172.4" stroke="#1b8a4c" stroke-width="1.8" stroke-linecap="butt"/>
<line x1="339.32" y1="1293.4" x2="351.92" y2="1293.4" stroke="#1b8a4c" stroke-width="1.8" stroke-linecap="butt"/>
<line x1="362.2" y1="1094.5" x2="362.2" y2="1055.4" stroke="#1b8a4c" stroke-width="1.8" stroke-linecap="butt"/>
<line x1="355.9" y1="1055.4" x2="368.5" y2="1055.4" stroke="#1b8a4c" stroke-width="1.8" stroke-linecap="butt"/>
<line x1="355.9" y1="1094.5" x2="368.5" y2="1094.5" stroke="#1b8a4c" stroke-width="1.8" stroke-linecap="butt"/>
<line x1="378.78" y1="1242.2" x2="378.78" y2="1055.4" stroke="#1b8a4c" stroke-width="1.8" stroke-linecap="butt"/>
<line x1="372.48" y1="1055.4" x2="385.08" y2="1055.4" stroke="#1b8a4c" stroke-width="1.8" stroke-linecap="butt"/>
<line x1="372.48" y1="1242.2" x2="385.08" y2="1242.2" stroke="#1b8a4c" stroke-width="1.8" stroke-linecap="butt"/>
<polyline points="196.4,1353 212.98,1343.9 229.56,1315.1 246.14,1323.4 262.72,1255.4 279.3,1238.8 295.88,1159.6 312.46,1109 329.04,1105.9 345.62,1232.9 362.2,1075.5 378.78,1149.2 395.36,1189 411.94,1353" fill="none" stroke="#1b8a4c" stroke-width="3" stroke-linejoin="round"/>
<circle cx="212.98" cy="1343.9" r="5.7" fill="#1b8a4c"/>
<circle cx="229.56" cy="1315.1" r="5.7" fill="#1b8a4c"/>
<circle cx="246.14" cy="1323.4" r="5.7" fill="#1b8a4c"/>
<circle cx="262.72" cy="1255.4" r="5.7" fill="#1b8a4c"/>
<circle cx="279.3" cy="1238.8" r="5.7" fill="#1b8a4c"/>
<circle cx="295.88" cy="1159.6" r="5.7" fill="#1b8a4c"/>
<circle cx="312.46" cy="1109" r="5.7" fill="#1b8a4c"/>
<circle cx="329.04" cy="1105.9" r="5.7" fill="#1b8a4c"/>
<circle cx="345.62" cy="1232.9" r="5.7" fill="#1b8a4c"/>
<circle cx="362.2" cy="1075.5" r="5.7" fill="#1b8a4c"/>
<circle cx="378.78" cy="1149.2" r="5.7" fill="#1b8a4c"/>
<circle cx="395.36" cy="1189" r="5.7" fill="#1b8a4c"/>
<line x1="445.1" y1="1353" x2="445.1" y2="1330.4" stroke="#999999" stroke-width="1.8" stroke-linecap="butt"/>
<line x1="438.8" y1="1330.4" x2="451.4" y2="1330.4" stroke="#999999" stroke-width="1.8" stroke-linecap="butt"/>
<line x1="438.8" y1="1353" x2="451.4" y2="1353" stroke="#999999" stroke-width="1.8" stroke-linecap="butt"/>
<line x1="528" y1="1353" x2="528" y2="1311.4" stroke="#999999" stroke-width="1.8" stroke-linecap="butt"/>
<line x1="521.7" y1="1311.4" x2="534.3" y2="1311.4" stroke="#999999" stroke-width="1.8" stroke-linecap="butt"/>
<line x1="521.7" y1="1353" x2="534.3" y2="1353" stroke="#999999" stroke-width="1.8" stroke-linecap="butt"/>
<line x1="561.16" y1="1324.5" x2="561.16" y2="1216.6" stroke="#999999" stroke-width="1.8" stroke-linecap="butt"/>
<line x1="554.86" y1="1216.6" x2="567.46" y2="1216.6" stroke="#999999" stroke-width="1.8" stroke-linecap="butt"/>
<line x1="554.86" y1="1324.5" x2="567.46" y2="1324.5" stroke="#999999" stroke-width="1.8" stroke-linecap="butt"/>
<line x1="594.32" y1="1353" x2="594.32" y2="1233.9" stroke="#999999" stroke-width="1.8" stroke-linecap="butt"/>
<line x1="588.02" y1="1233.9" x2="600.62" y2="1233.9" stroke="#999999" stroke-width="1.8" stroke-linecap="butt"/>
<line x1="588.02" y1="1353" x2="600.62" y2="1353" stroke="#999999" stroke-width="1.8" stroke-linecap="butt"/>
<line x1="610.9" y1="1353" x2="610.9" y2="1310.7" stroke="#999999" stroke-width="1.8" stroke-linecap="butt"/>
<line x1="604.6" y1="1310.7" x2="617.2" y2="1310.7" stroke="#999999" stroke-width="1.8" stroke-linecap="butt"/>
<line x1="604.6" y1="1353" x2="617.2" y2="1353" stroke="#999999" stroke-width="1.8" stroke-linecap="butt"/>
<line x1="660.64" y1="1353" x2="660.64" y2="1282" stroke="#999999" stroke-width="1.8" stroke-linecap="butt"/>
<line x1="654.34" y1="1282" x2="666.94" y2="1282" stroke="#999999" stroke-width="1.8" stroke-linecap="butt"/>
<line x1="654.34" y1="1353" x2="666.94" y2="1353" stroke="#999999" stroke-width="1.8" stroke-linecap="butt"/>
<polyline points="113.5,1353 130.08,1353 146.66,1353 163.24,1353 179.82,1353 196.4,1353 212.98,1353 229.56,1353 246.14,1353 262.72,1353 279.3,1353 295.88,1353 312.46,1353 329.04,1353 345.62,1353 362.2,1353 378.78,1353 395.36,1353 411.94,1353 428.52,1353 445.1,1341.8 461.68,1353 478.26,1353 494.84,1353 511.42,1353 528,1332.2 544.58,1353 561.16,1271 577.74,1353 594.32,1293.4 610.9,1332.2 627.48,1353 644.06,1353 660.64,1317.6 677.22,1353" fill="none" stroke="#999999" stroke-width="3.2" stroke-linejoin="round"/>
<line x1="107" y1="1353" x2="680" y2="1353" stroke="#6d6461" stroke-width="1" stroke-linecap="butt"/>
<rect x="107.9" y="1347.1" width="11.2" height="11.8" fill="#999999"/>
<rect x="124.48" y="1347.1" width="11.2" height="11.8" fill="#999999"/>
<rect x="141.06" y="1347.1" width="11.2" height="11.8" fill="#999999"/>
<rect x="157.64" y="1347.1" width="11.2" height="11.8" fill="#999999"/>
<rect x="174.22" y="1347.1" width="11.2" height="11.8" fill="#999999"/>
<rect x="190.8" y="1347.1" width="11.2" height="11.8" fill="#999999"/>
<rect x="207.38" y="1347.1" width="11.2" height="11.8" fill="#999999"/>
<rect x="223.96" y="1347.1" width="11.2" height="11.8" fill="#999999"/>
<rect x="240.54" y="1347.1" width="11.2" height="11.8" fill="#999999"/>
<rect x="257.12" y="1347.1" width="11.2" height="11.8" fill="#999999"/>
<rect x="273.7" y="1347.1" width="11.2" height="11.8" fill="#999999"/>
<rect x="290.28" y="1347.1" width="11.2" height="11.8" fill="#999999"/>
<rect x="306.86" y="1347.1" width="11.2" height="11.8" fill="#999999"/>
<rect x="323.44" y="1347.1" width="11.2" height="11.8" fill="#999999"/>
<rect x="340.02" y="1347.1" width="11.2" height="11.8" fill="#999999"/>
<rect x="356.6" y="1347.1" width="11.2" height="11.8" fill="#999999"/>
<rect x="373.18" y="1347.1" width="11.2" height="11.8" fill="#999999"/>
<rect x="389.76" y="1347.1" width="11.2" height="11.8" fill="#999999"/>
<rect x="406.34" y="1347.1" width="11.2" height="11.8" fill="#999999"/>
<rect x="422.92" y="1347.1" width="11.2" height="11.8" fill="#999999"/>
<rect x="439.5" y="1335.9" width="11.2" height="11.8" fill="#999999"/>
<rect x="456.08" y="1347.1" width="11.2" height="11.8" fill="#999999"/>
<rect x="472.66" y="1347.1" width="11.2" height="11.8" fill="#999999"/>
<rect x="489.24" y="1347.1" width="11.2" height="11.8" fill="#999999"/>
<rect x="505.82" y="1347.1" width="11.2" height="11.8" fill="#999999"/>
<rect x="522.4" y="1326.3" width="11.2" height="11.8" fill="#999999"/>
<rect x="538.98" y="1347.1" width="11.2" height="11.8" fill="#999999"/>
<rect x="555.56" y="1265.1" width="11.2" height="11.8" fill="#999999"/>
<rect x="572.14" y="1347.1" width="11.2" height="11.8" fill="#999999"/>
<rect x="588.72" y="1287.5" width="11.2" height="11.8" fill="#999999"/>
<rect x="605.3" y="1326.3" width="11.2" height="11.8" fill="#999999"/>
<rect x="621.88" y="1347.1" width="11.2" height="11.8" fill="#999999"/>
<rect x="638.46" y="1347.1" width="11.2" height="11.8" fill="#999999"/>
<rect x="655.04" y="1311.7" width="11.2" height="11.8" fill="#999999"/>
<rect x="671.62" y="1347.1" width="11.2" height="11.8" fill="#999999"/>
<text x="1014.39" y="1013.3" font-size="27.5" textLength="125.28" lengthAdjust="spacingAndGlyphs">Paralysis</text>
<line x1="806" y1="1347.8" x2="821.6" y2="1347.8" stroke="#000" stroke-width="4.2" stroke-linecap="butt"/>
<text x="782.49" y="1355.1" font-size="23.5">0</text>
<line x1="806" y1="1246.07" x2="821.6" y2="1246.07" stroke="#000" stroke-width="4.2" stroke-linecap="butt"/>
<text x="769.42" y="1253.37" font-size="23.5">50</text>
<line x1="806" y1="1144.33" x2="821.6" y2="1144.33" stroke="#000" stroke-width="4.2" stroke-linecap="butt"/>
<text x="756.36" y="1151.63" font-size="23.5">100</text>
<line x1="806" y1="1042.6" x2="821.6" y2="1042.6" stroke="#000" stroke-width="4.2" stroke-linecap="butt"/>
<text x="756.36" y="1049.89" font-size="23.5">150</text>
<line x1="821.6" y1="1040.5" x2="821.6" y2="1349.7" stroke="#000" stroke-width="4.4" stroke-linecap="butt"/>
<line x1="879.3" y1="1347.5" x2="879.3" y2="1363.1" stroke="#000" stroke-width="4.2" stroke-linecap="butt"/>
<text x="866.57" y="1389.2" font-size="23" textLength="25.89" lengthAdjust="spacingAndGlyphs">30</text>
<line x1="1014" y1="1347.5" x2="1014" y2="1363.1" stroke="#000" stroke-width="4.2" stroke-linecap="butt"/>
<text x="1001.45" y="1389.2" font-size="23" textLength="25.7" lengthAdjust="spacingAndGlyphs">40</text>
<line x1="1148.3" y1="1347.5" x2="1148.3" y2="1363.1" stroke="#000" stroke-width="4.2" stroke-linecap="butt"/>
<text x="1135.38" y="1389.2" font-size="23" textLength="26.08" lengthAdjust="spacingAndGlyphs">50</text>
<line x1="1282" y1="1347.5" x2="1282" y2="1363.1" stroke="#000" stroke-width="4.2" stroke-linecap="butt"/>
<text x="1268.94" y="1389.2" font-size="23" textLength="26.23" lengthAdjust="spacingAndGlyphs">60</text>
<text x="1026.46" y="1426" font-size="23.4" textLength="111.53" lengthAdjust="spacingAndGlyphs">Age (days)</text>
<g transform="translate(737.7 0) rotate(-90)">
<text x="-1292.25" y="0" font-size="24.1" textLength="184.7" lengthAdjust="spacingAndGlyphs">% Time paralyzed</text>
</g>
<rect x="1109.1" y="1272.4" width="27.9" height="75.1" fill="#1e8e50"/>
<path d="M1109.1 1347.5V1272.4H1137V1347.5" fill="none" stroke="#000" stroke-width="4.4" stroke-linejoin="miter"/>
<line x1="1123.05" y1="1295.6" x2="1123.05" y2="1243.4" stroke="#1a1a1a" stroke-width="1.7" stroke-linecap="butt"/>
<line x1="1114.05" y1="1243.4" x2="1132.05" y2="1243.4" stroke="#1a1a1a" stroke-width="1.7" stroke-linecap="butt"/>
<line x1="1114.05" y1="1295.6" x2="1132.05" y2="1295.6" stroke="#1a1a1a" stroke-width="1.7" stroke-linecap="butt"/>
<rect x="1243.4" y="1160.9" width="28" height="186.6" fill="#1e8e50"/>
<path d="M1243.4 1347.5V1160.9H1271.4V1347.5" fill="none" stroke="#000" stroke-width="4.4" stroke-linejoin="miter"/>
<line x1="1257.4" y1="1170.7" x2="1257.4" y2="1149.5" stroke="#1a1a1a" stroke-width="1.7" stroke-linecap="butt"/>
<line x1="1248.4" y1="1149.5" x2="1266.4" y2="1149.5" stroke="#1a1a1a" stroke-width="1.7" stroke-linecap="butt"/>
<line x1="1248.4" y1="1170.7" x2="1266.4" y2="1170.7" stroke="#1a1a1a" stroke-width="1.7" stroke-linecap="butt"/>
<circle cx="1122.9" cy="1144" r="6" fill="#000"/>
<circle cx="1122.9" cy="1221.3" r="6" fill="#000"/>
<circle cx="1122.9" cy="1259.7" r="6" fill="#000"/>
<circle cx="1122.9" cy="1288.1" r="6" fill="#000"/>
<circle cx="1122.9" cy="1303.8" r="6" fill="#000"/>
<circle cx="1133" cy="1330.5" r="6" fill="#000"/>
<circle cx="1113.4" cy="1339.6" r="6" fill="#000"/>
<circle cx="1247.8" cy="1144" r="6" fill="#000"/>
<circle cx="1257.6" cy="1144" r="6" fill="#000"/>
<circle cx="1268" cy="1144" r="6" fill="#000"/>
<circle cx="1257.6" cy="1198.5" r="6" fill="#000"/>
<line x1="806" y1="1347.5" x2="1341.7" y2="1347.5" stroke="#000" stroke-width="4.4" stroke-linecap="butt"/>
<rect x="840.2" y="1341.3" width="29.3" height="12" rx="6" fill="#000"/>
<rect x="889.1" y="1341.3" width="33.3" height="12" rx="6" fill="#000"/>
<rect x="973.2" y="1341.3" width="31.7" height="12" rx="6" fill="#000"/>
<rect x="1022.8" y="1341.3" width="33.6" height="12" rx="6" fill="#000"/>
<rect x="1156.5" y="1341.3" width="33.2" height="12" rx="6" fill="#000"/>
<rect x="1290.8" y="1341.3" width="33.6" height="12" rx="6" fill="#000"/>
<line x1="1119" y1="1081.1" x2="1166.3" y2="1081.1" stroke="#000" stroke-width="2.2" stroke-linecap="butt"/>
<text x="1120.48" y="1083.78" font-size="39.51" textLength="47.46" lengthAdjust="spacingAndGlyphs">***</text>
<line x1="1250" y1="1081.1" x2="1300.9" y2="1081.1" stroke="#000" stroke-width="2.2" stroke-linecap="butt"/>
<text x="1250.88" y="1083.78" font-size="39.51" textLength="47.46" lengthAdjust="spacingAndGlyphs">***</text>
<text x="1392.48" y="998.9" font-size="35.33" textLength="12.05" lengthAdjust="spacingAndGlyphs">f</text>
<text x="1658.18" y="1013.3" font-size="27.5" textLength="111.15" lengthAdjust="spacingAndGlyphs">Survival</text>
<line x1="1490.4" y1="1047.1" x2="1490.4" y2="1347.8" stroke="#000" stroke-width="3.1" stroke-linecap="butt"/>
<line x1="1477.7" y1="1346.3" x2="1937" y2="1346.3" stroke="#000" stroke-width="3.1" stroke-linecap="butt"/>
<line x1="1477.8" y1="1346.2" x2="1490.4" y2="1346.2" stroke="#000" stroke-width="2.9" stroke-linecap="butt"/>
<line x1="1483.2" y1="1332.68" x2="1490.4" y2="1332.68" stroke="#000" stroke-width="2.9" stroke-linecap="butt"/>
<line x1="1483.2" y1="1319.17" x2="1490.4" y2="1319.17" stroke="#000" stroke-width="2.9" stroke-linecap="butt"/>
<line x1="1483.2" y1="1305.65" x2="1490.4" y2="1305.65" stroke="#000" stroke-width="2.9" stroke-linecap="butt"/>
<line x1="1483.2" y1="1292.14" x2="1490.4" y2="1292.14" stroke="#000" stroke-width="2.9" stroke-linecap="butt"/>
<line x1="1483.2" y1="1278.62" x2="1490.4" y2="1278.62" stroke="#000" stroke-width="2.9" stroke-linecap="butt"/>
<line x1="1483.2" y1="1265.11" x2="1490.4" y2="1265.11" stroke="#000" stroke-width="2.9" stroke-linecap="butt"/>
<line x1="1483.2" y1="1251.6" x2="1490.4" y2="1251.6" stroke="#000" stroke-width="2.9" stroke-linecap="butt"/>
<line x1="1483.2" y1="1238.08" x2="1490.4" y2="1238.08" stroke="#000" stroke-width="2.9" stroke-linecap="butt"/>
<line x1="1483.2" y1="1224.57" x2="1490.4" y2="1224.57" stroke="#000" stroke-width="2.9" stroke-linecap="butt"/>
<line x1="1477.8" y1="1211.05" x2="1490.4" y2="1211.05" stroke="#000" stroke-width="2.9" stroke-linecap="butt"/>
<line x1="1483.2" y1="1197.54" x2="1490.4" y2="1197.54" stroke="#000" stroke-width="2.9" stroke-linecap="butt"/>
<line x1="1483.2" y1="1184.02" x2="1490.4" y2="1184.02" stroke="#000" stroke-width="2.9" stroke-linecap="butt"/>
<line x1="1483.2" y1="1170.51" x2="1490.4" y2="1170.51" stroke="#000" stroke-width="2.9" stroke-linecap="butt"/>
<line x1="1483.2" y1="1156.99" x2="1490.4" y2="1156.99" stroke="#000" stroke-width="2.9" stroke-linecap="butt"/>
<line x1="1483.2" y1="1143.48" x2="1490.4" y2="1143.48" stroke="#000" stroke-width="2.9" stroke-linecap="butt"/>
<line x1="1483.2" y1="1129.96" x2="1490.4" y2="1129.96" stroke="#000" stroke-width="2.9" stroke-linecap="butt"/>
<line x1="1483.2" y1="1116.45" x2="1490.4" y2="1116.45" stroke="#000" stroke-width="2.9" stroke-linecap="butt"/>
<line x1="1483.2" y1="1102.93" x2="1490.4" y2="1102.93" stroke="#000" stroke-width="2.9" stroke-linecap="butt"/>
<line x1="1483.2" y1="1089.41" x2="1490.4" y2="1089.41" stroke="#000" stroke-width="2.9" stroke-linecap="butt"/>
<line x1="1477.8" y1="1075.9" x2="1490.4" y2="1075.9" stroke="#000" stroke-width="2.9" stroke-linecap="butt"/>
<line x1="1483.2" y1="1062.38" x2="1490.4" y2="1062.38" stroke="#000" stroke-width="2.9" stroke-linecap="butt"/>
<line x1="1483.2" y1="1048.87" x2="1490.4" y2="1048.87" stroke="#000" stroke-width="2.9" stroke-linecap="butt"/>
<line x1="1490.3" y1="1346.3" x2="1490.3" y2="1358.9" stroke="#000" stroke-width="2.9" stroke-linecap="butt"/>
<line x1="1507.43" y1="1346.3" x2="1507.43" y2="1353.2" stroke="#000" stroke-width="2.9" stroke-linecap="butt"/>
<line x1="1524.56" y1="1346.3" x2="1524.56" y2="1353.2" stroke="#000" stroke-width="2.9" stroke-linecap="butt"/>
<line x1="1541.69" y1="1346.3" x2="1541.69" y2="1353.2" stroke="#000" stroke-width="2.9" stroke-linecap="butt"/>
<line x1="1558.82" y1="1346.3" x2="1558.82" y2="1353.2" stroke="#000" stroke-width="2.9" stroke-linecap="butt"/>
<line x1="1575.95" y1="1346.3" x2="1575.95" y2="1353.2" stroke="#000" stroke-width="2.9" stroke-linecap="butt"/>
<line x1="1593.08" y1="1346.3" x2="1593.08" y2="1353.2" stroke="#000" stroke-width="2.9" stroke-linecap="butt"/>
<line x1="1610.21" y1="1346.3" x2="1610.21" y2="1353.2" stroke="#000" stroke-width="2.9" stroke-linecap="butt"/>
<line x1="1627.34" y1="1346.3" x2="1627.34" y2="1353.2" stroke="#000" stroke-width="2.9" stroke-linecap="butt"/>
<line x1="1644.47" y1="1346.3" x2="1644.47" y2="1353.2" stroke="#000" stroke-width="2.9" stroke-linecap="butt"/>
<line x1="1661.6" y1="1346.3" x2="1661.6" y2="1358.9" stroke="#000" stroke-width="2.9" stroke-linecap="butt"/>
<line x1="1678.73" y1="1346.3" x2="1678.73" y2="1353.2" stroke="#000" stroke-width="2.9" stroke-linecap="butt"/>
<line x1="1695.86" y1="1346.3" x2="1695.86" y2="1353.2" stroke="#000" stroke-width="2.9" stroke-linecap="butt"/>
<line x1="1712.99" y1="1346.3" x2="1712.99" y2="1353.2" stroke="#000" stroke-width="2.9" stroke-linecap="butt"/>
<line x1="1730.12" y1="1346.3" x2="1730.12" y2="1353.2" stroke="#000" stroke-width="2.9" stroke-linecap="butt"/>
<line x1="1747.25" y1="1346.3" x2="1747.25" y2="1353.2" stroke="#000" stroke-width="2.9" stroke-linecap="butt"/>
<line x1="1764.38" y1="1346.3" x2="1764.38" y2="1353.2" stroke="#000" stroke-width="2.9" stroke-linecap="butt"/>
<line x1="1781.51" y1="1346.3" x2="1781.51" y2="1353.2" stroke="#000" stroke-width="2.9" stroke-linecap="butt"/>
<line x1="1798.64" y1="1346.3" x2="1798.64" y2="1353.2" stroke="#000" stroke-width="2.9" stroke-linecap="butt"/>
<line x1="1815.77" y1="1346.3" x2="1815.77" y2="1353.2" stroke="#000" stroke-width="2.9" stroke-linecap="butt"/>
<line x1="1832.9" y1="1346.3" x2="1832.9" y2="1358.9" stroke="#000" stroke-width="2.9" stroke-linecap="butt"/>
<line x1="1850.03" y1="1346.3" x2="1850.03" y2="1353.2" stroke="#000" stroke-width="2.9" stroke-linecap="butt"/>
<line x1="1867.16" y1="1346.3" x2="1867.16" y2="1353.2" stroke="#000" stroke-width="2.9" stroke-linecap="butt"/>
<line x1="1884.29" y1="1346.3" x2="1884.29" y2="1353.2" stroke="#000" stroke-width="2.9" stroke-linecap="butt"/>
<line x1="1901.42" y1="1346.3" x2="1901.42" y2="1353.2" stroke="#000" stroke-width="2.9" stroke-linecap="butt"/>
<line x1="1918.55" y1="1346.3" x2="1918.55" y2="1353.2" stroke="#000" stroke-width="2.9" stroke-linecap="butt"/>
<line x1="1935.68" y1="1346.3" x2="1935.68" y2="1353.2" stroke="#000" stroke-width="2.9" stroke-linecap="butt"/>
<text x="1453.4" y="1353.6" font-size="23.3">0</text>
<text x="1440.44" y="1218.45" font-size="23.3">50</text>
<text x="1427.48" y="1083.3" font-size="23.3">100</text>
<text x="1483.71" y="1390.2" font-size="22.6" textLength="13.21" lengthAdjust="spacingAndGlyphs">0</text>
<text x="1648.94" y="1390.2" font-size="22.6" textLength="25.55" lengthAdjust="spacingAndGlyphs">50</text>
<text x="1813.88" y="1390.2" font-size="22.6" textLength="37.54" lengthAdjust="spacingAndGlyphs">100</text>
<text x="1657.75" y="1426.2" font-size="23.5" textLength="112.24" lengthAdjust="spacingAndGlyphs">Age (days)</text>
<g transform="translate(1410.9 0) rotate(-90)">
<text x="-1282.06" y="0" font-size="24" textLength="169.11" lengthAdjust="spacingAndGlyphs">Percent survival</text>
</g>
<polyline points="1490.3,1075.9 1568.41,1075.9 1568.41,1091.8 1599.93,1091.8 1599.93,1107.7 1606.44,1107.7 1606.44,1123.6 1682.16,1123.6 1682.16,1139.5 1699.29,1139.5 1699.29,1155.4 1719.84,1155.4 1719.84,1171.3 1747.25,1171.3 1747.25,1187.2 1754.1,1187.2 1754.1,1203.1 1757.53,1203.1 1757.53,1219 1784.94,1219 1784.94,1234.9 1812.34,1234.9 1812.34,1250.8 1822.62,1250.8 1822.62,1266.7 1832.9,1266.7 1832.9,1282.6 1843.18,1282.6 1843.18,1298.5 1860.31,1298.5 1860.31,1314.4 1877.44,1314.4 1877.44,1330.3 1911.7,1330.3 1911.7,1346.2" fill="none" stroke="#b4b3b1" stroke-width="2" stroke-linejoin="miter"/>
<circle cx="1599.93" cy="1107.7" r="6.1" fill="#b4b3b1"/>
<circle cx="1606.44" cy="1123.6" r="6.1" fill="#b4b3b1"/>
<circle cx="1682.16" cy="1139.5" r="6.1" fill="#b4b3b1"/>
<circle cx="1699.29" cy="1155.4" r="6.1" fill="#b4b3b1"/>
<circle cx="1719.84" cy="1171.3" r="6.1" fill="#b4b3b1"/>
<circle cx="1747.25" cy="1187.2" r="6.1" fill="#b4b3b1"/>
<circle cx="1754.1" cy="1203.1" r="6.1" fill="#b4b3b1"/>
<circle cx="1757.53" cy="1219" r="6.1" fill="#b4b3b1"/>
<circle cx="1784.94" cy="1234.9" r="6.1" fill="#b4b3b1"/>
<circle cx="1812.34" cy="1250.8" r="6.1" fill="#b4b3b1"/>
<circle cx="1822.62" cy="1266.7" r="6.1" fill="#b4b3b1"/>
<circle cx="1832.9" cy="1282.6" r="6.1" fill="#b4b3b1"/>
<circle cx="1843.18" cy="1298.5" r="6.1" fill="#b4b3b1"/>
<circle cx="1860.31" cy="1314.4" r="6.1" fill="#b4b3b1"/>
<circle cx="1877.44" cy="1330.3" r="6.1" fill="#b4b3b1"/>
<circle cx="1911.7" cy="1346.2" r="6.1" fill="#b4b3b1"/>
<polyline points="1490.3,1075.9 1568.41,1075.9 1568.41,1091.8 1572.52,1091.8 1572.52,1107.7 1582.12,1107.7 1582.12,1139.5 1664.68,1139.5 1664.68,1155.4 1674.96,1155.4 1674.96,1187.2 1688.67,1187.2 1688.67,1203.1 1699.29,1203.1 1699.29,1234.9 1709.56,1234.9 1709.56,1266.7 1716.07,1266.7 1716.07,1298.5 1726.69,1298.5 1726.69,1314.4 1730.12,1314.4 1730.12,1330.3 1784.94,1330.3 1784.94,1346.2" fill="none" stroke="#1b8a4c" stroke-width="2" stroke-linejoin="miter"/>
<circle cx="1568.41" cy="1091.8" r="6.1" fill="#1b8a4c"/>
<circle cx="1572.52" cy="1107.7" r="6.1" fill="#1b8a4c"/>
<circle cx="1582.12" cy="1139.5" r="6.1" fill="#1b8a4c"/>
<circle cx="1664.68" cy="1155.4" r="6.1" fill="#1b8a4c"/>
<circle cx="1674.96" cy="1187.2" r="6.1" fill="#1b8a4c"/>
<circle cx="1688.67" cy="1203.1" r="6.1" fill="#1b8a4c"/>
<circle cx="1699.29" cy="1234.9" r="6.1" fill="#1b8a4c"/>
<circle cx="1709.56" cy="1266.7" r="6.1" fill="#1b8a4c"/>
<circle cx="1716.07" cy="1298.5" r="6.1" fill="#1b8a4c"/>
<circle cx="1726.69" cy="1314.4" r="6.1" fill="#1b8a4c"/>
<circle cx="1730.12" cy="1330.3" r="6.1" fill="#1b8a4c"/>
<circle cx="1784.94" cy="1346.2" r="6.1" fill="#1b8a4c"/>
<text x="1777.88" y="1209.51" font-size="38.97" textLength="48.16" lengthAdjust="spacingAndGlyphs">***</text>
<rect x="1503.7" y="1270.3" width="31.5" height="16.4" fill="#1b8a4c"/>
<rect x="1503.7" y="1299.8" width="31.5" height="16.4" fill="#b4b3b3"/>
<text x="1548.56" y="1286.7" font-size="23.3" textLength="118.86" lengthAdjust="spacingAndGlyphs">:60.29±4.00</text>
<text x="1546.85" y="1316.2" font-size="23.3" textLength="119.28" lengthAdjust="spacingAndGlyphs">:84.00±6.75</text>
<rect x="1852.4" y="1035.4" width="31.7" height="16.9" fill="#1b8a4c" stroke="#000" stroke-width="3.8"/>
<rect x="1852.4" y="1109.9" width="31.7" height="17.2" fill="#b4b3b4" stroke="#000" stroke-width="3.8"/>
<text x="1900.94" y="1048.8" font-size="23.3" textLength="108.04" lengthAdjust="spacingAndGlyphs">cKO mice,</text>
<text x="1900.91" y="1075" font-size="23.3" textLength="81.85" lengthAdjust="spacingAndGlyphs">Ctrl diet</text>
<text x="1900.94" y="1123.6" font-size="23.3" textLength="108.04" lengthAdjust="spacingAndGlyphs">cKO mice,</text>
<text x="1901.17" y="1149.9" font-size="23.3" textLength="123.59" lengthAdjust="spacingAndGlyphs">SG-free diet</text>
</svg>
</body></html>
